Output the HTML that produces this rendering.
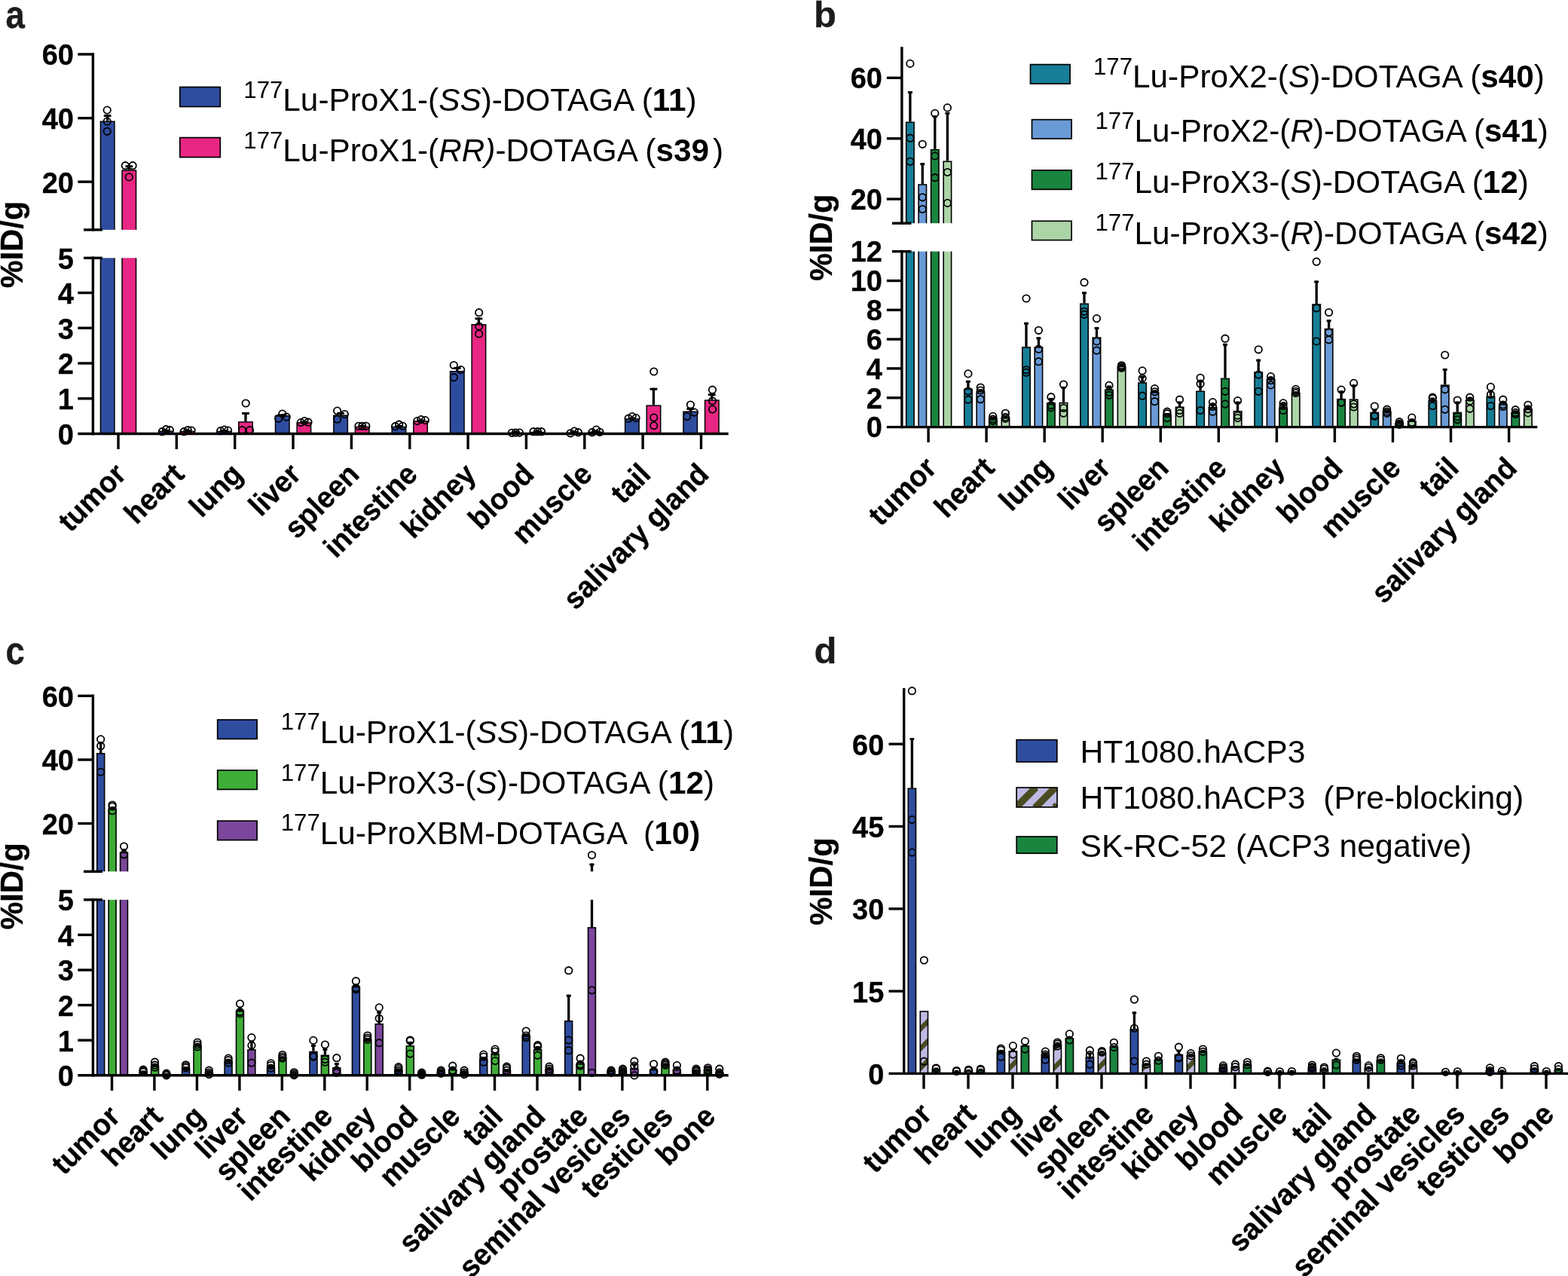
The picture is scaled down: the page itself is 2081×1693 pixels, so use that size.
<!DOCTYPE html>
<html lang="en">
<head>
<meta charset="utf-8">
<title>Biodistribution figure</title>
<style>
html,body{margin:0;padding:0;background:#fff;}
body{width:2081px;height:1693px;overflow:hidden;}
svg{display:block;font-family:"Liberation Sans",Arial,Helvetica,sans-serif;fill:#000;}
text[font-weight="bold"]{stroke:#000;stroke-width:0.3px;stroke-linejoin:round;}
</style>
</head>
<body>
<svg width="2081" height="1693" viewBox="0 0 2081 1693">
<rect width="2081" height="1693" fill="#fff"/>
<text transform="translate(7.6,36.9) scale(0.93,1.06)" font-size="49" font-weight="bold" text-anchor="start" style="fill:#1c1c1c;stroke:#1c1c1c">a</text>
<text transform="translate(30.0,324.6) rotate(-90) scale(1,1.02)" font-size="41.5" font-weight="bold" text-anchor="middle">%ID/g</text>
<rect x="133.45" y="161.25" width="18.50" height="414.25" fill="#2F4D9F" stroke="#000" stroke-width="1.5"/>
<line x1="142.7" y1="160.5" x2="142.7" y2="152.2" stroke="#000" stroke-width="3.3" stroke-linecap="butt"/>
<line x1="137.8" y1="153.6" x2="147.5" y2="153.6" stroke="#000" stroke-width="3.0" stroke-linecap="butt"/>
<rect x="131.7" y="304.9" width="22.0" height="37.4" fill="#fff"/>
<circle cx="142.2" cy="146.1" r="4.7" fill="none" stroke="#000" stroke-width="1.8"/>
<circle cx="142.2" cy="161.1" r="4.7" fill="none" stroke="#000" stroke-width="1.8"/>
<circle cx="142.2" cy="174.3" r="4.7" fill="none" stroke="#000" stroke-width="1.8"/>
<rect x="162.05" y="226.05" width="18.50" height="349.45" fill="#E82683" stroke="#000" stroke-width="1.5"/>
<line x1="171.3" y1="225.3" x2="171.3" y2="219.3" stroke="#000" stroke-width="3.3" stroke-linecap="butt"/>
<line x1="166.5" y1="220.7" x2="176.2" y2="220.7" stroke="#000" stroke-width="3.0" stroke-linecap="butt"/>
<rect x="160.3" y="304.9" width="22.0" height="37.4" fill="#fff"/>
<circle cx="166.3" cy="219.7" r="4.7" fill="none" stroke="#000" stroke-width="1.8"/>
<circle cx="176.1" cy="219.7" r="4.7" fill="none" stroke="#000" stroke-width="1.8"/>
<circle cx="171.3" cy="234.9" r="4.7" fill="none" stroke="#000" stroke-width="1.8"/>
<rect x="210.80" y="572.25" width="18.50" height="3.25" fill="#2F4D9F" stroke="#000" stroke-width="1.5"/>
<line x1="220.0" y1="571.5" x2="220.0" y2="569.9" stroke="#000" stroke-width="3.3" stroke-linecap="butt"/>
<line x1="215.2" y1="571.3" x2="224.9" y2="571.3" stroke="#000" stroke-width="3.0" stroke-linecap="butt"/>
<circle cx="215.3" cy="572.7" r="4.7" fill="none" stroke="#000" stroke-width="1.8"/>
<circle cx="220.4" cy="569.7" r="4.7" fill="none" stroke="#000" stroke-width="1.8"/>
<circle cx="225.4" cy="570.7" r="4.7" fill="none" stroke="#000" stroke-width="1.8"/>
<rect x="239.40" y="572.55" width="18.50" height="2.95" fill="#E82683" stroke="#000" stroke-width="1.5"/>
<line x1="248.7" y1="571.8" x2="248.7" y2="570.2" stroke="#000" stroke-width="3.3" stroke-linecap="butt"/>
<line x1="243.8" y1="571.6" x2="253.5" y2="571.6" stroke="#000" stroke-width="3.0" stroke-linecap="butt"/>
<circle cx="244.1" cy="572.7" r="4.7" fill="none" stroke="#000" stroke-width="1.8"/>
<circle cx="249.2" cy="570.7" r="4.7" fill="none" stroke="#000" stroke-width="1.8"/>
<circle cx="254.1" cy="571.1" r="4.7" fill="none" stroke="#000" stroke-width="1.8"/>
<rect x="288.15" y="572.45" width="18.50" height="3.05" fill="#2F4D9F" stroke="#000" stroke-width="1.5"/>
<line x1="297.4" y1="571.7" x2="297.4" y2="570.1" stroke="#000" stroke-width="3.3" stroke-linecap="butt"/>
<line x1="292.5" y1="571.5" x2="302.2" y2="571.5" stroke="#000" stroke-width="3.0" stroke-linecap="butt"/>
<circle cx="292.7" cy="571.7" r="4.7" fill="none" stroke="#000" stroke-width="1.8"/>
<circle cx="297.6" cy="570.1" r="4.7" fill="none" stroke="#000" stroke-width="1.8"/>
<circle cx="302.6" cy="571.1" r="4.7" fill="none" stroke="#000" stroke-width="1.8"/>
<rect x="316.75" y="559.95" width="18.50" height="15.55" fill="#E82683" stroke="#000" stroke-width="1.5"/>
<line x1="326.0" y1="559.2" x2="326.0" y2="547.1" stroke="#000" stroke-width="3.3" stroke-linecap="butt"/>
<line x1="321.1" y1="548.5" x2="330.9" y2="548.5" stroke="#000" stroke-width="3.0" stroke-linecap="butt"/>
<circle cx="326.2" cy="535.0" r="4.7" fill="none" stroke="#000" stroke-width="1.8"/>
<circle cx="321.4" cy="570.7" r="4.7" fill="none" stroke="#000" stroke-width="1.8"/>
<circle cx="331.5" cy="570.7" r="4.7" fill="none" stroke="#000" stroke-width="1.8"/>
<rect x="365.50" y="551.85" width="18.50" height="23.65" fill="#2F4D9F" stroke="#000" stroke-width="1.5"/>
<line x1="374.7" y1="551.1" x2="374.7" y2="549.5" stroke="#000" stroke-width="3.3" stroke-linecap="butt"/>
<line x1="369.9" y1="550.9" x2="379.6" y2="550.9" stroke="#000" stroke-width="3.0" stroke-linecap="butt"/>
<circle cx="374.8" cy="549.1" r="4.7" fill="none" stroke="#000" stroke-width="1.8"/>
<circle cx="369.7" cy="555.2" r="4.7" fill="none" stroke="#000" stroke-width="1.8"/>
<circle cx="380.2" cy="553.2" r="4.7" fill="none" stroke="#000" stroke-width="1.8"/>
<rect x="394.10" y="560.95" width="18.50" height="14.55" fill="#E82683" stroke="#000" stroke-width="1.5"/>
<line x1="403.3" y1="560.2" x2="403.3" y2="558.6" stroke="#000" stroke-width="3.3" stroke-linecap="butt"/>
<line x1="398.5" y1="560.0" x2="408.2" y2="560.0" stroke="#000" stroke-width="3.0" stroke-linecap="butt"/>
<circle cx="404.0" cy="558.6" r="4.7" fill="none" stroke="#000" stroke-width="1.8"/>
<circle cx="399.4" cy="560.6" r="4.7" fill="none" stroke="#000" stroke-width="1.8"/>
<circle cx="409.0" cy="560.2" r="4.7" fill="none" stroke="#000" stroke-width="1.8"/>
<rect x="442.85" y="551.25" width="18.50" height="24.25" fill="#2F4D9F" stroke="#000" stroke-width="1.5"/>
<line x1="452.1" y1="550.5" x2="452.1" y2="547.0" stroke="#000" stroke-width="3.3" stroke-linecap="butt"/>
<line x1="447.2" y1="548.4" x2="456.9" y2="548.4" stroke="#000" stroke-width="3.0" stroke-linecap="butt"/>
<circle cx="447.6" cy="545.1" r="4.7" fill="none" stroke="#000" stroke-width="1.8"/>
<circle cx="457.3" cy="549.5" r="4.7" fill="none" stroke="#000" stroke-width="1.8"/>
<circle cx="447.6" cy="556.2" r="4.7" fill="none" stroke="#000" stroke-width="1.8"/>
<rect x="471.45" y="566.45" width="18.50" height="9.05" fill="#E82683" stroke="#000" stroke-width="1.5"/>
<line x1="480.7" y1="565.7" x2="480.7" y2="564.1" stroke="#000" stroke-width="3.3" stroke-linecap="butt"/>
<line x1="475.8" y1="565.5" x2="485.6" y2="565.5" stroke="#000" stroke-width="3.0" stroke-linecap="butt"/>
<circle cx="476.0" cy="565.3" r="4.7" fill="none" stroke="#000" stroke-width="1.8"/>
<circle cx="480.8" cy="565.3" r="4.7" fill="none" stroke="#000" stroke-width="1.8"/>
<circle cx="485.8" cy="565.3" r="4.7" fill="none" stroke="#000" stroke-width="1.8"/>
<rect x="520.20" y="566.45" width="18.50" height="9.05" fill="#2F4D9F" stroke="#000" stroke-width="1.5"/>
<line x1="529.5" y1="565.7" x2="529.5" y2="564.1" stroke="#000" stroke-width="3.3" stroke-linecap="butt"/>
<line x1="524.6" y1="565.5" x2="534.3" y2="565.5" stroke="#000" stroke-width="3.0" stroke-linecap="butt"/>
<circle cx="524.6" cy="565.7" r="4.7" fill="none" stroke="#000" stroke-width="1.8"/>
<circle cx="529.6" cy="563.2" r="4.7" fill="none" stroke="#000" stroke-width="1.8"/>
<circle cx="534.5" cy="565.3" r="4.7" fill="none" stroke="#000" stroke-width="1.8"/>
<rect x="548.80" y="558.95" width="18.50" height="16.55" fill="#E82683" stroke="#000" stroke-width="1.5"/>
<line x1="558.0" y1="558.2" x2="558.0" y2="556.6" stroke="#000" stroke-width="3.3" stroke-linecap="butt"/>
<line x1="553.2" y1="558.0" x2="562.9" y2="558.0" stroke="#000" stroke-width="3.0" stroke-linecap="butt"/>
<circle cx="553.8" cy="558.6" r="4.7" fill="none" stroke="#000" stroke-width="1.8"/>
<circle cx="558.8" cy="556.6" r="4.7" fill="none" stroke="#000" stroke-width="1.8"/>
<circle cx="564.3" cy="557.6" r="4.7" fill="none" stroke="#000" stroke-width="1.8"/>
<rect x="597.55" y="492.75" width="18.50" height="82.75" fill="#2F4D9F" stroke="#000" stroke-width="1.5"/>
<line x1="606.8" y1="492.0" x2="606.8" y2="487.0" stroke="#000" stroke-width="3.3" stroke-linecap="butt"/>
<line x1="601.9" y1="488.4" x2="611.6" y2="488.4" stroke="#000" stroke-width="3.0" stroke-linecap="butt"/>
<circle cx="602.3" cy="484.5" r="4.7" fill="none" stroke="#000" stroke-width="1.8"/>
<circle cx="611.6" cy="490.6" r="4.7" fill="none" stroke="#000" stroke-width="1.8"/>
<circle cx="602.3" cy="500.7" r="4.7" fill="none" stroke="#000" stroke-width="1.8"/>
<rect x="626.15" y="430.75" width="18.50" height="144.75" fill="#E82683" stroke="#000" stroke-width="1.5"/>
<line x1="635.4" y1="430.0" x2="635.4" y2="421.4" stroke="#000" stroke-width="3.3" stroke-linecap="butt"/>
<line x1="630.5" y1="422.8" x2="640.2" y2="422.8" stroke="#000" stroke-width="3.0" stroke-linecap="butt"/>
<circle cx="635.7" cy="414.7" r="4.7" fill="none" stroke="#000" stroke-width="1.8"/>
<circle cx="635.7" cy="432.9" r="4.7" fill="none" stroke="#000" stroke-width="1.8"/>
<circle cx="635.7" cy="443.0" r="4.7" fill="none" stroke="#000" stroke-width="1.8"/>
<rect x="674.90" y="574.35" width="18.50" height="1.15" fill="#2F4D9F" stroke="#000" stroke-width="1.5"/>
<line x1="684.1" y1="573.6" x2="684.1" y2="572.0" stroke="#000" stroke-width="3.3" stroke-linecap="butt"/>
<line x1="679.3" y1="573.4" x2="689.0" y2="573.4" stroke="#000" stroke-width="3.0" stroke-linecap="butt"/>
<circle cx="679.4" cy="574.3" r="4.7" fill="none" stroke="#000" stroke-width="1.8"/>
<circle cx="684.4" cy="574.1" r="4.7" fill="none" stroke="#000" stroke-width="1.8"/>
<circle cx="689.4" cy="574.1" r="4.7" fill="none" stroke="#000" stroke-width="1.8"/>
<rect x="703.50" y="573.55" width="18.50" height="1.95" fill="#E82683" stroke="#000" stroke-width="1.5"/>
<line x1="712.7" y1="572.8" x2="712.7" y2="571.2" stroke="#000" stroke-width="3.3" stroke-linecap="butt"/>
<line x1="707.9" y1="572.6" x2="717.6" y2="572.6" stroke="#000" stroke-width="3.0" stroke-linecap="butt"/>
<circle cx="708.0" cy="572.7" r="4.7" fill="none" stroke="#000" stroke-width="1.8"/>
<circle cx="713.5" cy="572.7" r="4.7" fill="none" stroke="#000" stroke-width="1.8"/>
<circle cx="718.5" cy="572.7" r="4.7" fill="none" stroke="#000" stroke-width="1.8"/>
<rect x="752.25" y="574.35" width="18.50" height="1.15" fill="#2F4D9F" stroke="#000" stroke-width="1.5"/>
<line x1="761.5" y1="573.6" x2="761.5" y2="572.0" stroke="#000" stroke-width="3.3" stroke-linecap="butt"/>
<line x1="756.6" y1="573.4" x2="766.4" y2="573.4" stroke="#000" stroke-width="3.0" stroke-linecap="butt"/>
<circle cx="757.1" cy="574.8" r="4.7" fill="none" stroke="#000" stroke-width="1.8"/>
<circle cx="762.3" cy="572.1" r="4.7" fill="none" stroke="#000" stroke-width="1.8"/>
<circle cx="767.4" cy="573.7" r="4.7" fill="none" stroke="#000" stroke-width="1.8"/>
<rect x="780.85" y="573.35" width="18.50" height="2.15" fill="#E82683" stroke="#000" stroke-width="1.5"/>
<line x1="790.1" y1="572.6" x2="790.1" y2="571.0" stroke="#000" stroke-width="3.3" stroke-linecap="butt"/>
<line x1="785.2" y1="572.4" x2="794.9" y2="572.4" stroke="#000" stroke-width="3.0" stroke-linecap="butt"/>
<circle cx="785.9" cy="573.7" r="4.7" fill="none" stroke="#000" stroke-width="1.8"/>
<circle cx="791.4" cy="570.1" r="4.7" fill="none" stroke="#000" stroke-width="1.8"/>
<circle cx="796.0" cy="573.3" r="4.7" fill="none" stroke="#000" stroke-width="1.8"/>
<rect x="829.60" y="555.95" width="18.50" height="19.55" fill="#2F4D9F" stroke="#000" stroke-width="1.5"/>
<line x1="838.9" y1="555.2" x2="838.9" y2="553.6" stroke="#000" stroke-width="3.3" stroke-linecap="butt"/>
<line x1="834.0" y1="555.0" x2="843.7" y2="555.0" stroke="#000" stroke-width="3.0" stroke-linecap="butt"/>
<circle cx="834.1" cy="555.2" r="4.7" fill="none" stroke="#000" stroke-width="1.8"/>
<circle cx="839.1" cy="552.6" r="4.7" fill="none" stroke="#000" stroke-width="1.8"/>
<circle cx="844.1" cy="554.6" r="4.7" fill="none" stroke="#000" stroke-width="1.8"/>
<rect x="858.20" y="538.15" width="18.50" height="37.35" fill="#E82683" stroke="#000" stroke-width="1.5"/>
<line x1="867.4" y1="537.4" x2="867.4" y2="514.8" stroke="#000" stroke-width="3.3" stroke-linecap="butt"/>
<line x1="862.6" y1="516.2" x2="872.3" y2="516.2" stroke="#000" stroke-width="3.0" stroke-linecap="butt"/>
<circle cx="867.8" cy="493.0" r="4.7" fill="none" stroke="#000" stroke-width="1.8"/>
<circle cx="867.8" cy="554.0" r="4.7" fill="none" stroke="#000" stroke-width="1.8"/>
<circle cx="867.8" cy="564.7" r="4.7" fill="none" stroke="#000" stroke-width="1.8"/>
<rect x="906.95" y="546.25" width="18.50" height="29.25" fill="#2F4D9F" stroke="#000" stroke-width="1.5"/>
<line x1="916.2" y1="545.5" x2="916.2" y2="541.0" stroke="#000" stroke-width="3.3" stroke-linecap="butt"/>
<line x1="911.4" y1="542.4" x2="921.1" y2="542.4" stroke="#000" stroke-width="3.0" stroke-linecap="butt"/>
<circle cx="916.4" cy="537.0" r="4.7" fill="none" stroke="#000" stroke-width="1.8"/>
<circle cx="911.8" cy="552.6" r="4.7" fill="none" stroke="#000" stroke-width="1.8"/>
<circle cx="921.5" cy="547.1" r="4.7" fill="none" stroke="#000" stroke-width="1.8"/>
<rect x="935.55" y="531.15" width="18.50" height="44.35" fill="#E82683" stroke="#000" stroke-width="1.5"/>
<line x1="944.8" y1="530.4" x2="944.8" y2="522.3" stroke="#000" stroke-width="3.3" stroke-linecap="butt"/>
<line x1="939.9" y1="523.7" x2="949.6" y2="523.7" stroke="#000" stroke-width="3.0" stroke-linecap="butt"/>
<circle cx="945.5" cy="517.2" r="4.7" fill="none" stroke="#000" stroke-width="1.8"/>
<circle cx="945.5" cy="532.0" r="4.7" fill="none" stroke="#000" stroke-width="1.8"/>
<circle cx="945.5" cy="543.1" r="4.7" fill="none" stroke="#000" stroke-width="1.8"/>
<line x1="123.4" y1="70.3" x2="123.4" y2="306.6" stroke="#000" stroke-width="3.4" stroke-linecap="butt"/>
<line x1="123.4" y1="340.6" x2="123.4" y2="577.2" stroke="#000" stroke-width="3.4" stroke-linecap="butt"/>
<line x1="103.3" y1="72.0" x2="123.4" y2="72.0" stroke="#000" stroke-width="3.4" stroke-linecap="butt"/>
<line x1="103.3" y1="156.7" x2="123.4" y2="156.7" stroke="#000" stroke-width="3.4" stroke-linecap="butt"/>
<line x1="103.3" y1="241.2" x2="123.4" y2="241.2" stroke="#000" stroke-width="3.4" stroke-linecap="butt"/>
<line x1="111.0" y1="304.9" x2="136.0" y2="304.9" stroke="#000" stroke-width="3.4" stroke-linecap="butt"/>
<line x1="111.0" y1="342.3" x2="136.0" y2="342.3" stroke="#000" stroke-width="3.4" stroke-linecap="butt"/>
<line x1="103.3" y1="528.8" x2="123.4" y2="528.8" stroke="#000" stroke-width="3.4" stroke-linecap="butt"/>
<line x1="103.3" y1="482.0" x2="123.4" y2="482.0" stroke="#000" stroke-width="3.4" stroke-linecap="butt"/>
<line x1="103.3" y1="435.2" x2="123.4" y2="435.2" stroke="#000" stroke-width="3.4" stroke-linecap="butt"/>
<line x1="103.3" y1="388.5" x2="123.4" y2="388.5" stroke="#000" stroke-width="3.4" stroke-linecap="butt"/>
<line x1="103.3" y1="575.5" x2="966.7" y2="575.5" stroke="#000" stroke-width="3.4" stroke-linecap="butt"/>
<line x1="157.0" y1="575.5" x2="157.0" y2="596.0" stroke="#000" stroke-width="3.4" stroke-linecap="butt"/>
<line x1="234.3" y1="575.5" x2="234.3" y2="596.0" stroke="#000" stroke-width="3.4" stroke-linecap="butt"/>
<line x1="311.7" y1="575.5" x2="311.7" y2="596.0" stroke="#000" stroke-width="3.4" stroke-linecap="butt"/>
<line x1="389.0" y1="575.5" x2="389.0" y2="596.0" stroke="#000" stroke-width="3.4" stroke-linecap="butt"/>
<line x1="466.4" y1="575.5" x2="466.4" y2="596.0" stroke="#000" stroke-width="3.4" stroke-linecap="butt"/>
<line x1="543.8" y1="575.5" x2="543.8" y2="596.0" stroke="#000" stroke-width="3.4" stroke-linecap="butt"/>
<line x1="621.1" y1="575.5" x2="621.1" y2="596.0" stroke="#000" stroke-width="3.4" stroke-linecap="butt"/>
<line x1="698.4" y1="575.5" x2="698.4" y2="596.0" stroke="#000" stroke-width="3.4" stroke-linecap="butt"/>
<line x1="775.8" y1="575.5" x2="775.8" y2="596.0" stroke="#000" stroke-width="3.4" stroke-linecap="butt"/>
<line x1="853.1" y1="575.5" x2="853.1" y2="596.0" stroke="#000" stroke-width="3.4" stroke-linecap="butt"/>
<line x1="930.5" y1="575.5" x2="930.5" y2="596.0" stroke="#000" stroke-width="3.4" stroke-linecap="butt"/>
<text transform="translate(97.9,86.4) scale(1,1.04)" font-size="38" font-weight="bold" text-anchor="end" >60</text>
<text transform="translate(97.9,171.1) scale(1,1.04)" font-size="38" font-weight="bold" text-anchor="end" >40</text>
<text transform="translate(97.9,255.6) scale(1,1.04)" font-size="38" font-weight="bold" text-anchor="end" >20</text>
<text transform="translate(97.9,356.7) scale(1,1.04)" font-size="38" font-weight="bold" text-anchor="end" >5</text>
<text transform="translate(97.9,589.9) scale(1,1.04)" font-size="38" font-weight="bold" text-anchor="end" >0</text>
<text transform="translate(97.9,543.2) scale(1,1.04)" font-size="38" font-weight="bold" text-anchor="end" >1</text>
<text transform="translate(97.9,496.4) scale(1,1.04)" font-size="38" font-weight="bold" text-anchor="end" >2</text>
<text transform="translate(97.9,449.7) scale(1,1.04)" font-size="38" font-weight="bold" text-anchor="end" >3</text>
<text transform="translate(97.9,402.9) scale(1,1.04)" font-size="38" font-weight="bold" text-anchor="end" >4</text>
<text transform="translate(169.5,631.5) rotate(-45) scale(1,1.04)" font-size="38" font-weight="bold" text-anchor="end">tumor</text>
<text transform="translate(246.8,631.5) rotate(-45) scale(1,1.04)" font-size="38" font-weight="bold" text-anchor="end">heart</text>
<text transform="translate(324.2,631.5) rotate(-45) scale(1,1.04)" font-size="38" font-weight="bold" text-anchor="end">lung</text>
<text transform="translate(401.5,631.5) rotate(-45) scale(1,1.04)" font-size="38" font-weight="bold" text-anchor="end">liver</text>
<text transform="translate(478.9,631.5) rotate(-45) scale(1,1.04)" font-size="38" font-weight="bold" text-anchor="end">spleen</text>
<text transform="translate(556.2,631.5) rotate(-45) scale(1,1.04)" font-size="38" font-weight="bold" text-anchor="end">intestine</text>
<text transform="translate(633.6,631.5) rotate(-45) scale(1,1.04)" font-size="38" font-weight="bold" text-anchor="end">kidney</text>
<text transform="translate(710.9,631.5) rotate(-45) scale(1,1.04)" font-size="38" font-weight="bold" text-anchor="end">blood</text>
<text transform="translate(788.3,631.5) rotate(-45) scale(1,1.04)" font-size="38" font-weight="bold" text-anchor="end">muscle</text>
<text transform="translate(865.6,631.5) rotate(-45) scale(1,1.04)" font-size="38" font-weight="bold" text-anchor="end">tail</text>
<text transform="translate(943.0,631.5) rotate(-45) scale(1,1.04)" font-size="38" font-weight="bold" text-anchor="end">salivary gland</text>
<rect x="238.80" y="115.50" width="53.50" height="26.00" fill="#2F4D9F" stroke="#000" stroke-width="1.7"/>
<rect x="238.80" y="182.60" width="53.50" height="26.00" fill="#E82683" stroke="#000" stroke-width="1.7"/>
<text x="323.3" y="147.0" font-size="42.3" font-weight="normal" xml:space="preserve"><tspan font-size="31.2" dy="-17.5">177</tspan><tspan dy="17.5">Lu-ProX1-(</tspan><tspan font-style="italic">SS</tspan><tspan>)-DOTAGA (</tspan><tspan font-weight="bold">11</tspan><tspan>)</tspan></text>
<text x="323.3" y="214.2" font-size="42.3" font-weight="normal" xml:space="preserve"><tspan font-size="31.2" dy="-17.5">177</tspan><tspan dy="17.5">Lu-ProX1-(</tspan><tspan font-style="italic">RR)</tspan><tspan>-DOTAGA (</tspan><tspan font-weight="bold">s39</tspan><tspan dx="5">)</tspan></text>
<text transform="translate(1080.0,35.9) scale(1.0,1.0)" font-size="49" font-weight="bold" text-anchor="start" style="fill:#1c1c1c;stroke:#1c1c1c">b</text>
<text transform="translate(1104.0,315.2) rotate(-90) scale(1,1.02)" font-size="41.5" font-weight="bold" text-anchor="middle">%ID/g</text>
<rect x="1202.70" y="162.30" width="10.40" height="404.30" fill="#177E97" stroke="#000" stroke-width="1.6"/>
<line x1="1207.9" y1="161.5" x2="1207.9" y2="121.1" stroke="#000" stroke-width="3.3" stroke-linecap="butt"/>
<line x1="1204.9" y1="122.5" x2="1210.9" y2="122.5" stroke="#000" stroke-width="3.0" stroke-linecap="butt"/>
<rect x="1200.9" y="296.2" width="14.0" height="37.4" fill="#fff"/>
<circle cx="1207.9" cy="84.4" r="4.7" fill="none" stroke="#000" stroke-width="1.8"/>
<circle cx="1207.9" cy="183.2" r="4.7" fill="none" stroke="#000" stroke-width="1.8"/>
<circle cx="1207.9" cy="214.3" r="4.7" fill="none" stroke="#000" stroke-width="1.8"/>
<rect x="1219.10" y="245.00" width="10.40" height="321.60" fill="#6A9AD6" stroke="#000" stroke-width="1.6"/>
<line x1="1224.3" y1="244.2" x2="1224.3" y2="216.3" stroke="#000" stroke-width="3.3" stroke-linecap="butt"/>
<line x1="1221.3" y1="217.7" x2="1227.3" y2="217.7" stroke="#000" stroke-width="3.0" stroke-linecap="butt"/>
<rect x="1217.3" y="296.2" width="14.0" height="37.4" fill="#fff"/>
<circle cx="1224.3" cy="191.3" r="4.7" fill="none" stroke="#000" stroke-width="1.8"/>
<circle cx="1224.3" cy="261.8" r="4.7" fill="none" stroke="#000" stroke-width="1.8"/>
<circle cx="1224.3" cy="277.5" r="4.7" fill="none" stroke="#000" stroke-width="1.8"/>
<rect x="1235.60" y="198.60" width="10.40" height="368.00" fill="#19853F" stroke="#000" stroke-width="1.6"/>
<line x1="1240.8" y1="197.8" x2="1240.8" y2="153.4" stroke="#000" stroke-width="3.3" stroke-linecap="butt"/>
<line x1="1237.8" y1="154.8" x2="1243.8" y2="154.8" stroke="#000" stroke-width="3.0" stroke-linecap="butt"/>
<rect x="1233.8" y="296.2" width="14.0" height="37.4" fill="#fff"/>
<circle cx="1240.8" cy="150.4" r="4.7" fill="none" stroke="#000" stroke-width="1.8"/>
<circle cx="1240.8" cy="206.9" r="4.7" fill="none" stroke="#000" stroke-width="1.8"/>
<circle cx="1240.8" cy="235.7" r="4.7" fill="none" stroke="#000" stroke-width="1.8"/>
<rect x="1252.20" y="214.30" width="10.40" height="352.30" fill="#ACD5A7" stroke="#000" stroke-width="1.6"/>
<line x1="1257.4" y1="213.5" x2="1257.4" y2="148.9" stroke="#000" stroke-width="3.3" stroke-linecap="butt"/>
<line x1="1254.4" y1="150.3" x2="1260.4" y2="150.3" stroke="#000" stroke-width="3.0" stroke-linecap="butt"/>
<rect x="1250.4" y="296.2" width="14.0" height="37.4" fill="#fff"/>
<circle cx="1257.4" cy="142.9" r="4.7" fill="none" stroke="#000" stroke-width="1.8"/>
<circle cx="1257.4" cy="228.5" r="4.7" fill="none" stroke="#000" stroke-width="1.8"/>
<circle cx="1257.4" cy="269.4" r="4.7" fill="none" stroke="#000" stroke-width="1.8"/>
<rect x="1279.75" y="516.40" width="10.40" height="50.20" fill="#177E97" stroke="#000" stroke-width="1.6"/>
<line x1="1284.9" y1="515.6" x2="1284.9" y2="504.9" stroke="#000" stroke-width="3.3" stroke-linecap="butt"/>
<line x1="1281.9" y1="506.3" x2="1287.9" y2="506.3" stroke="#000" stroke-width="3.0" stroke-linecap="butt"/>
<circle cx="1284.9" cy="495.9" r="4.7" fill="none" stroke="#000" stroke-width="1.8"/>
<circle cx="1284.9" cy="519.0" r="4.7" fill="none" stroke="#000" stroke-width="1.8"/>
<circle cx="1284.9" cy="530.2" r="4.7" fill="none" stroke="#000" stroke-width="1.8"/>
<rect x="1296.15" y="519.80" width="10.40" height="46.80" fill="#6A9AD6" stroke="#000" stroke-width="1.6"/>
<line x1="1301.3" y1="519.0" x2="1301.3" y2="516.5" stroke="#000" stroke-width="3.3" stroke-linecap="butt"/>
<line x1="1298.3" y1="517.9" x2="1304.3" y2="517.9" stroke="#000" stroke-width="3.0" stroke-linecap="butt"/>
<circle cx="1301.3" cy="514.0" r="4.7" fill="none" stroke="#000" stroke-width="1.8"/>
<circle cx="1301.3" cy="518.0" r="4.7" fill="none" stroke="#000" stroke-width="1.8"/>
<circle cx="1301.3" cy="529.8" r="4.7" fill="none" stroke="#000" stroke-width="1.8"/>
<rect x="1312.65" y="555.20" width="10.40" height="11.40" fill="#19853F" stroke="#000" stroke-width="1.6"/>
<line x1="1317.8" y1="554.4" x2="1317.8" y2="552.8" stroke="#000" stroke-width="3.3" stroke-linecap="butt"/>
<line x1="1314.8" y1="554.2" x2="1320.8" y2="554.2" stroke="#000" stroke-width="3.0" stroke-linecap="butt"/>
<circle cx="1317.8" cy="552.4" r="4.7" fill="none" stroke="#000" stroke-width="1.8"/>
<circle cx="1317.8" cy="556.0" r="4.7" fill="none" stroke="#000" stroke-width="1.8"/>
<circle cx="1317.8" cy="558.4" r="4.7" fill="none" stroke="#000" stroke-width="1.8"/>
<rect x="1329.25" y="554.80" width="10.40" height="11.80" fill="#ACD5A7" stroke="#000" stroke-width="1.6"/>
<line x1="1334.4" y1="554.0" x2="1334.4" y2="552.4" stroke="#000" stroke-width="3.3" stroke-linecap="butt"/>
<line x1="1331.4" y1="553.8" x2="1337.4" y2="553.8" stroke="#000" stroke-width="3.0" stroke-linecap="butt"/>
<circle cx="1334.4" cy="548.3" r="4.7" fill="none" stroke="#000" stroke-width="1.8"/>
<circle cx="1334.4" cy="553.4" r="4.7" fill="none" stroke="#000" stroke-width="1.8"/>
<circle cx="1334.4" cy="555.4" r="4.7" fill="none" stroke="#000" stroke-width="1.8"/>
<rect x="1356.80" y="460.90" width="10.40" height="105.70" fill="#177E97" stroke="#000" stroke-width="1.6"/>
<line x1="1362.0" y1="460.1" x2="1362.0" y2="427.8" stroke="#000" stroke-width="3.3" stroke-linecap="butt"/>
<line x1="1359.0" y1="429.2" x2="1365.0" y2="429.2" stroke="#000" stroke-width="3.0" stroke-linecap="butt"/>
<circle cx="1362.0" cy="396.0" r="4.7" fill="none" stroke="#000" stroke-width="1.8"/>
<circle cx="1362.0" cy="490.8" r="4.7" fill="none" stroke="#000" stroke-width="1.8"/>
<circle cx="1362.0" cy="494.2" r="4.7" fill="none" stroke="#000" stroke-width="1.8"/>
<rect x="1373.20" y="460.90" width="10.40" height="105.70" fill="#6A9AD6" stroke="#000" stroke-width="1.6"/>
<line x1="1378.4" y1="460.1" x2="1378.4" y2="447.4" stroke="#000" stroke-width="3.3" stroke-linecap="butt"/>
<line x1="1375.4" y1="448.8" x2="1381.4" y2="448.8" stroke="#000" stroke-width="3.0" stroke-linecap="butt"/>
<circle cx="1378.4" cy="438.3" r="4.7" fill="none" stroke="#000" stroke-width="1.8"/>
<circle cx="1378.4" cy="463.2" r="4.7" fill="none" stroke="#000" stroke-width="1.8"/>
<circle cx="1378.4" cy="479.7" r="4.7" fill="none" stroke="#000" stroke-width="1.8"/>
<rect x="1389.70" y="535.00" width="10.40" height="31.60" fill="#19853F" stroke="#000" stroke-width="1.6"/>
<line x1="1394.9" y1="534.2" x2="1394.9" y2="528.0" stroke="#000" stroke-width="3.3" stroke-linecap="butt"/>
<line x1="1391.9" y1="529.4" x2="1397.9" y2="529.4" stroke="#000" stroke-width="3.0" stroke-linecap="butt"/>
<circle cx="1394.9" cy="526.7" r="4.7" fill="none" stroke="#000" stroke-width="1.8"/>
<circle cx="1394.9" cy="537.8" r="4.7" fill="none" stroke="#000" stroke-width="1.8"/>
<circle cx="1394.9" cy="540.9" r="4.7" fill="none" stroke="#000" stroke-width="1.8"/>
<rect x="1406.30" y="534.60" width="10.40" height="32.00" fill="#ACD5A7" stroke="#000" stroke-width="1.6"/>
<line x1="1411.5" y1="533.8" x2="1411.5" y2="513.0" stroke="#000" stroke-width="3.3" stroke-linecap="butt"/>
<line x1="1408.5" y1="514.4" x2="1414.5" y2="514.4" stroke="#000" stroke-width="3.0" stroke-linecap="butt"/>
<circle cx="1411.5" cy="510.0" r="4.7" fill="none" stroke="#000" stroke-width="1.8"/>
<circle cx="1411.5" cy="541.3" r="4.7" fill="none" stroke="#000" stroke-width="1.8"/>
<circle cx="1411.5" cy="548.3" r="4.7" fill="none" stroke="#000" stroke-width="1.8"/>
<rect x="1433.85" y="403.20" width="10.40" height="163.40" fill="#177E97" stroke="#000" stroke-width="1.6"/>
<line x1="1439.0" y1="402.4" x2="1439.0" y2="387.3" stroke="#000" stroke-width="3.3" stroke-linecap="butt"/>
<line x1="1436.0" y1="388.7" x2="1442.0" y2="388.7" stroke="#000" stroke-width="3.0" stroke-linecap="butt"/>
<circle cx="1439.0" cy="374.7" r="4.7" fill="none" stroke="#000" stroke-width="1.8"/>
<circle cx="1439.0" cy="413.3" r="4.7" fill="none" stroke="#000" stroke-width="1.8"/>
<circle cx="1439.0" cy="417.2" r="4.7" fill="none" stroke="#000" stroke-width="1.8"/>
<rect x="1450.25" y="448.10" width="10.40" height="118.50" fill="#6A9AD6" stroke="#000" stroke-width="1.6"/>
<line x1="1455.5" y1="447.3" x2="1455.5" y2="434.0" stroke="#000" stroke-width="3.3" stroke-linecap="butt"/>
<line x1="1452.5" y1="435.4" x2="1458.5" y2="435.4" stroke="#000" stroke-width="3.0" stroke-linecap="butt"/>
<circle cx="1455.5" cy="422.6" r="4.7" fill="none" stroke="#000" stroke-width="1.8"/>
<circle cx="1455.5" cy="452.9" r="4.7" fill="none" stroke="#000" stroke-width="1.8"/>
<circle cx="1455.5" cy="465.0" r="4.7" fill="none" stroke="#000" stroke-width="1.8"/>
<rect x="1466.75" y="517.20" width="10.40" height="49.40" fill="#19853F" stroke="#000" stroke-width="1.6"/>
<line x1="1472.0" y1="516.4" x2="1472.0" y2="511.7" stroke="#000" stroke-width="3.3" stroke-linecap="butt"/>
<line x1="1469.0" y1="513.1" x2="1475.0" y2="513.1" stroke="#000" stroke-width="3.0" stroke-linecap="butt"/>
<circle cx="1472.0" cy="511.4" r="4.7" fill="none" stroke="#000" stroke-width="1.8"/>
<circle cx="1472.0" cy="520.5" r="4.7" fill="none" stroke="#000" stroke-width="1.8"/>
<circle cx="1472.0" cy="524.3" r="4.7" fill="none" stroke="#000" stroke-width="1.8"/>
<rect x="1483.35" y="486.50" width="10.40" height="80.10" fill="#ACD5A7" stroke="#000" stroke-width="1.6"/>
<line x1="1488.5" y1="485.7" x2="1488.5" y2="484.1" stroke="#000" stroke-width="3.3" stroke-linecap="butt"/>
<line x1="1485.5" y1="485.5" x2="1491.5" y2="485.5" stroke="#000" stroke-width="3.0" stroke-linecap="butt"/>
<circle cx="1488.5" cy="484.8" r="4.7" fill="none" stroke="#000" stroke-width="1.8"/>
<circle cx="1488.5" cy="486.5" r="4.7" fill="none" stroke="#000" stroke-width="1.8"/>
<circle cx="1488.5" cy="488.2" r="4.7" fill="none" stroke="#000" stroke-width="1.8"/>
<rect x="1510.90" y="508.00" width="10.40" height="58.60" fill="#177E97" stroke="#000" stroke-width="1.6"/>
<line x1="1516.1" y1="507.2" x2="1516.1" y2="498.8" stroke="#000" stroke-width="3.3" stroke-linecap="butt"/>
<line x1="1513.1" y1="500.2" x2="1519.1" y2="500.2" stroke="#000" stroke-width="3.0" stroke-linecap="butt"/>
<circle cx="1516.1" cy="491.9" r="4.7" fill="none" stroke="#000" stroke-width="1.8"/>
<circle cx="1516.1" cy="502.0" r="4.7" fill="none" stroke="#000" stroke-width="1.8"/>
<circle cx="1516.1" cy="525.2" r="4.7" fill="none" stroke="#000" stroke-width="1.8"/>
<rect x="1527.30" y="520.90" width="10.40" height="45.70" fill="#6A9AD6" stroke="#000" stroke-width="1.6"/>
<line x1="1532.5" y1="520.1" x2="1532.5" y2="517.6" stroke="#000" stroke-width="3.3" stroke-linecap="butt"/>
<line x1="1529.5" y1="519.0" x2="1535.5" y2="519.0" stroke="#000" stroke-width="3.0" stroke-linecap="butt"/>
<circle cx="1532.5" cy="515.6" r="4.7" fill="none" stroke="#000" stroke-width="1.8"/>
<circle cx="1532.5" cy="519.8" r="4.7" fill="none" stroke="#000" stroke-width="1.8"/>
<circle cx="1532.5" cy="532.7" r="4.7" fill="none" stroke="#000" stroke-width="1.8"/>
<rect x="1543.80" y="550.40" width="10.40" height="16.20" fill="#19853F" stroke="#000" stroke-width="1.6"/>
<line x1="1549.0" y1="549.6" x2="1549.0" y2="548.0" stroke="#000" stroke-width="3.3" stroke-linecap="butt"/>
<line x1="1546.0" y1="549.4" x2="1552.0" y2="549.4" stroke="#000" stroke-width="3.0" stroke-linecap="butt"/>
<circle cx="1549.0" cy="546.2" r="4.7" fill="none" stroke="#000" stroke-width="1.8"/>
<circle cx="1549.0" cy="548.7" r="4.7" fill="none" stroke="#000" stroke-width="1.8"/>
<circle cx="1549.0" cy="554.6" r="4.7" fill="none" stroke="#000" stroke-width="1.8"/>
<rect x="1560.40" y="540.30" width="10.40" height="26.30" fill="#ACD5A7" stroke="#000" stroke-width="1.6"/>
<line x1="1565.6" y1="539.5" x2="1565.6" y2="532.7" stroke="#000" stroke-width="3.3" stroke-linecap="butt"/>
<line x1="1562.6" y1="534.1" x2="1568.6" y2="534.1" stroke="#000" stroke-width="3.0" stroke-linecap="butt"/>
<circle cx="1565.6" cy="530.2" r="4.7" fill="none" stroke="#000" stroke-width="1.8"/>
<circle cx="1565.6" cy="544.5" r="4.7" fill="none" stroke="#000" stroke-width="1.8"/>
<circle cx="1565.6" cy="548.4" r="4.7" fill="none" stroke="#000" stroke-width="1.8"/>
<rect x="1587.95" y="519.30" width="10.40" height="47.30" fill="#177E97" stroke="#000" stroke-width="1.6"/>
<line x1="1593.1" y1="518.5" x2="1593.1" y2="504.7" stroke="#000" stroke-width="3.3" stroke-linecap="butt"/>
<line x1="1590.1" y1="506.1" x2="1596.1" y2="506.1" stroke="#000" stroke-width="3.0" stroke-linecap="butt"/>
<circle cx="1593.1" cy="501.3" r="4.7" fill="none" stroke="#000" stroke-width="1.8"/>
<circle cx="1593.1" cy="509.2" r="4.7" fill="none" stroke="#000" stroke-width="1.8"/>
<circle cx="1593.1" cy="544.5" r="4.7" fill="none" stroke="#000" stroke-width="1.8"/>
<rect x="1604.35" y="540.80" width="10.40" height="25.80" fill="#6A9AD6" stroke="#000" stroke-width="1.6"/>
<line x1="1609.5" y1="540.0" x2="1609.5" y2="536.0" stroke="#000" stroke-width="3.3" stroke-linecap="butt"/>
<line x1="1606.5" y1="537.4" x2="1612.5" y2="537.4" stroke="#000" stroke-width="3.0" stroke-linecap="butt"/>
<circle cx="1609.5" cy="533.6" r="4.7" fill="none" stroke="#000" stroke-width="1.8"/>
<circle cx="1609.5" cy="539.5" r="4.7" fill="none" stroke="#000" stroke-width="1.8"/>
<circle cx="1609.5" cy="546.2" r="4.7" fill="none" stroke="#000" stroke-width="1.8"/>
<rect x="1620.85" y="502.40" width="10.40" height="64.20" fill="#19853F" stroke="#000" stroke-width="1.6"/>
<line x1="1626.0" y1="501.6" x2="1626.0" y2="455.9" stroke="#000" stroke-width="3.3" stroke-linecap="butt"/>
<line x1="1623.0" y1="457.3" x2="1629.0" y2="457.3" stroke="#000" stroke-width="3.0" stroke-linecap="butt"/>
<circle cx="1626.0" cy="449.2" r="4.7" fill="none" stroke="#000" stroke-width="1.8"/>
<circle cx="1626.0" cy="519.3" r="4.7" fill="none" stroke="#000" stroke-width="1.8"/>
<circle cx="1626.0" cy="536.1" r="4.7" fill="none" stroke="#000" stroke-width="1.8"/>
<rect x="1637.45" y="545.70" width="10.40" height="20.90" fill="#ACD5A7" stroke="#000" stroke-width="1.6"/>
<line x1="1642.6" y1="544.9" x2="1642.6" y2="532.7" stroke="#000" stroke-width="3.3" stroke-linecap="butt"/>
<line x1="1639.6" y1="534.1" x2="1645.6" y2="534.1" stroke="#000" stroke-width="3.0" stroke-linecap="butt"/>
<circle cx="1642.6" cy="531.6" r="4.7" fill="none" stroke="#000" stroke-width="1.8"/>
<circle cx="1642.6" cy="551.2" r="4.7" fill="none" stroke="#000" stroke-width="1.8"/>
<circle cx="1642.6" cy="554.6" r="4.7" fill="none" stroke="#000" stroke-width="1.8"/>
<rect x="1665.00" y="494.00" width="10.40" height="72.60" fill="#177E97" stroke="#000" stroke-width="1.6"/>
<line x1="1670.2" y1="493.2" x2="1670.2" y2="476.7" stroke="#000" stroke-width="3.3" stroke-linecap="butt"/>
<line x1="1667.2" y1="478.1" x2="1673.2" y2="478.1" stroke="#000" stroke-width="3.0" stroke-linecap="butt"/>
<circle cx="1670.2" cy="463.8" r="4.7" fill="none" stroke="#000" stroke-width="1.8"/>
<circle cx="1670.2" cy="497.1" r="4.7" fill="none" stroke="#000" stroke-width="1.8"/>
<circle cx="1670.2" cy="519.3" r="4.7" fill="none" stroke="#000" stroke-width="1.8"/>
<rect x="1681.40" y="503.30" width="10.40" height="63.30" fill="#6A9AD6" stroke="#000" stroke-width="1.6"/>
<line x1="1686.6" y1="502.5" x2="1686.6" y2="500.0" stroke="#000" stroke-width="3.3" stroke-linecap="butt"/>
<line x1="1683.6" y1="501.4" x2="1689.6" y2="501.4" stroke="#000" stroke-width="3.0" stroke-linecap="butt"/>
<circle cx="1686.6" cy="499.6" r="4.7" fill="none" stroke="#000" stroke-width="1.8"/>
<circle cx="1686.6" cy="504.7" r="4.7" fill="none" stroke="#000" stroke-width="1.8"/>
<circle cx="1686.6" cy="510.9" r="4.7" fill="none" stroke="#000" stroke-width="1.8"/>
<rect x="1697.90" y="541.10" width="10.40" height="25.50" fill="#19853F" stroke="#000" stroke-width="1.6"/>
<line x1="1703.1" y1="540.3" x2="1703.1" y2="535.0" stroke="#000" stroke-width="3.3" stroke-linecap="butt"/>
<line x1="1700.1" y1="536.4" x2="1706.1" y2="536.4" stroke="#000" stroke-width="3.0" stroke-linecap="butt"/>
<circle cx="1703.1" cy="534.9" r="4.7" fill="none" stroke="#000" stroke-width="1.8"/>
<circle cx="1703.1" cy="538.6" r="4.7" fill="none" stroke="#000" stroke-width="1.8"/>
<circle cx="1703.1" cy="544.5" r="4.7" fill="none" stroke="#000" stroke-width="1.8"/>
<rect x="1714.50" y="521.80" width="10.40" height="44.80" fill="#ACD5A7" stroke="#000" stroke-width="1.6"/>
<line x1="1719.7" y1="521.0" x2="1719.7" y2="519.4" stroke="#000" stroke-width="3.3" stroke-linecap="butt"/>
<line x1="1716.7" y1="520.8" x2="1722.7" y2="520.8" stroke="#000" stroke-width="3.0" stroke-linecap="butt"/>
<circle cx="1719.7" cy="516.4" r="4.7" fill="none" stroke="#000" stroke-width="1.8"/>
<circle cx="1719.7" cy="519.3" r="4.7" fill="none" stroke="#000" stroke-width="1.8"/>
<circle cx="1719.7" cy="521.5" r="4.7" fill="none" stroke="#000" stroke-width="1.8"/>
<rect x="1742.05" y="404.00" width="10.40" height="162.60" fill="#177E97" stroke="#000" stroke-width="1.6"/>
<line x1="1747.2" y1="403.2" x2="1747.2" y2="372.5" stroke="#000" stroke-width="3.3" stroke-linecap="butt"/>
<line x1="1744.2" y1="373.9" x2="1750.2" y2="373.9" stroke="#000" stroke-width="3.0" stroke-linecap="butt"/>
<circle cx="1747.2" cy="347.2" r="4.7" fill="none" stroke="#000" stroke-width="1.8"/>
<circle cx="1747.2" cy="408.8" r="4.7" fill="none" stroke="#000" stroke-width="1.8"/>
<circle cx="1747.2" cy="452.9" r="4.7" fill="none" stroke="#000" stroke-width="1.8"/>
<rect x="1758.45" y="436.50" width="10.40" height="130.10" fill="#6A9AD6" stroke="#000" stroke-width="1.6"/>
<line x1="1763.6" y1="435.7" x2="1763.6" y2="424.3" stroke="#000" stroke-width="3.3" stroke-linecap="butt"/>
<line x1="1760.6" y1="425.7" x2="1766.6" y2="425.7" stroke="#000" stroke-width="3.0" stroke-linecap="butt"/>
<circle cx="1763.6" cy="414.5" r="4.7" fill="none" stroke="#000" stroke-width="1.8"/>
<circle cx="1763.6" cy="441.1" r="4.7" fill="none" stroke="#000" stroke-width="1.8"/>
<circle cx="1763.6" cy="450.8" r="4.7" fill="none" stroke="#000" stroke-width="1.8"/>
<rect x="1774.95" y="529.70" width="10.40" height="36.90" fill="#19853F" stroke="#000" stroke-width="1.6"/>
<line x1="1780.1" y1="528.9" x2="1780.1" y2="518.5" stroke="#000" stroke-width="3.3" stroke-linecap="butt"/>
<line x1="1777.1" y1="519.9" x2="1783.1" y2="519.9" stroke="#000" stroke-width="3.0" stroke-linecap="butt"/>
<circle cx="1780.1" cy="517.1" r="4.7" fill="none" stroke="#000" stroke-width="1.8"/>
<circle cx="1780.1" cy="533.9" r="4.7" fill="none" stroke="#000" stroke-width="1.8"/>
<circle cx="1780.1" cy="534.4" r="4.7" fill="none" stroke="#000" stroke-width="1.8"/>
<rect x="1791.55" y="530.20" width="10.40" height="36.40" fill="#ACD5A7" stroke="#000" stroke-width="1.6"/>
<line x1="1796.7" y1="529.4" x2="1796.7" y2="510.4" stroke="#000" stroke-width="3.3" stroke-linecap="butt"/>
<line x1="1793.7" y1="511.8" x2="1799.7" y2="511.8" stroke="#000" stroke-width="3.0" stroke-linecap="butt"/>
<circle cx="1796.7" cy="508.4" r="4.7" fill="none" stroke="#000" stroke-width="1.8"/>
<circle cx="1796.7" cy="536.1" r="4.7" fill="none" stroke="#000" stroke-width="1.8"/>
<circle cx="1796.7" cy="540.0" r="4.7" fill="none" stroke="#000" stroke-width="1.8"/>
<rect x="1819.10" y="547.50" width="10.40" height="19.10" fill="#177E97" stroke="#000" stroke-width="1.6"/>
<line x1="1824.3" y1="546.7" x2="1824.3" y2="542.8" stroke="#000" stroke-width="3.3" stroke-linecap="butt"/>
<line x1="1821.3" y1="544.2" x2="1827.3" y2="544.2" stroke="#000" stroke-width="3.0" stroke-linecap="butt"/>
<circle cx="1824.3" cy="539.0" r="4.7" fill="none" stroke="#000" stroke-width="1.8"/>
<circle cx="1824.3" cy="551.3" r="4.7" fill="none" stroke="#000" stroke-width="1.8"/>
<circle cx="1824.3" cy="552.4" r="4.7" fill="none" stroke="#000" stroke-width="1.8"/>
<rect x="1835.50" y="546.20" width="10.40" height="20.40" fill="#6A9AD6" stroke="#000" stroke-width="1.6"/>
<line x1="1840.7" y1="545.4" x2="1840.7" y2="543.8" stroke="#000" stroke-width="3.3" stroke-linecap="butt"/>
<line x1="1837.7" y1="545.2" x2="1843.7" y2="545.2" stroke="#000" stroke-width="3.0" stroke-linecap="butt"/>
<circle cx="1840.7" cy="543.2" r="4.7" fill="none" stroke="#000" stroke-width="1.8"/>
<circle cx="1840.7" cy="546.2" r="4.7" fill="none" stroke="#000" stroke-width="1.8"/>
<circle cx="1840.7" cy="548.4" r="4.7" fill="none" stroke="#000" stroke-width="1.8"/>
<rect x="1852.00" y="561.60" width="10.40" height="5.00" fill="#19853F" stroke="#000" stroke-width="1.6"/>
<line x1="1857.2" y1="560.8" x2="1857.2" y2="559.2" stroke="#000" stroke-width="3.3" stroke-linecap="butt"/>
<line x1="1854.2" y1="560.6" x2="1860.2" y2="560.6" stroke="#000" stroke-width="3.0" stroke-linecap="butt"/>
<circle cx="1857.2" cy="559.7" r="4.7" fill="none" stroke="#000" stroke-width="1.8"/>
<circle cx="1857.2" cy="562.2" r="4.7" fill="none" stroke="#000" stroke-width="1.8"/>
<circle cx="1857.2" cy="563.4" r="4.7" fill="none" stroke="#000" stroke-width="1.8"/>
<rect x="1868.60" y="558.80" width="10.40" height="7.80" fill="#ACD5A7" stroke="#000" stroke-width="1.6"/>
<line x1="1873.8" y1="558.0" x2="1873.8" y2="556.4" stroke="#000" stroke-width="3.3" stroke-linecap="butt"/>
<line x1="1870.8" y1="557.8" x2="1876.8" y2="557.8" stroke="#000" stroke-width="3.0" stroke-linecap="butt"/>
<circle cx="1873.8" cy="554.1" r="4.7" fill="none" stroke="#000" stroke-width="1.8"/>
<circle cx="1873.8" cy="560.5" r="4.7" fill="none" stroke="#000" stroke-width="1.8"/>
<circle cx="1873.8" cy="563.0" r="4.7" fill="none" stroke="#000" stroke-width="1.8"/>
<rect x="1896.15" y="531.90" width="10.40" height="34.70" fill="#177E97" stroke="#000" stroke-width="1.6"/>
<line x1="1901.3" y1="531.1" x2="1901.3" y2="527.7" stroke="#000" stroke-width="3.3" stroke-linecap="butt"/>
<line x1="1898.3" y1="529.1" x2="1904.3" y2="529.1" stroke="#000" stroke-width="3.0" stroke-linecap="butt"/>
<circle cx="1901.3" cy="527.2" r="4.7" fill="none" stroke="#000" stroke-width="1.8"/>
<circle cx="1901.3" cy="528.5" r="4.7" fill="none" stroke="#000" stroke-width="1.8"/>
<circle cx="1901.3" cy="538.6" r="4.7" fill="none" stroke="#000" stroke-width="1.8"/>
<rect x="1912.55" y="511.20" width="10.40" height="55.40" fill="#6A9AD6" stroke="#000" stroke-width="1.6"/>
<line x1="1917.7" y1="510.4" x2="1917.7" y2="489.0" stroke="#000" stroke-width="3.3" stroke-linecap="butt"/>
<line x1="1914.7" y1="490.4" x2="1920.7" y2="490.4" stroke="#000" stroke-width="3.0" stroke-linecap="butt"/>
<circle cx="1917.7" cy="471.0" r="4.7" fill="none" stroke="#000" stroke-width="1.8"/>
<circle cx="1917.7" cy="516.8" r="4.7" fill="none" stroke="#000" stroke-width="1.8"/>
<circle cx="1917.7" cy="543.3" r="4.7" fill="none" stroke="#000" stroke-width="1.8"/>
<rect x="1929.05" y="547.50" width="10.40" height="19.10" fill="#19853F" stroke="#000" stroke-width="1.6"/>
<line x1="1934.2" y1="546.7" x2="1934.2" y2="532.7" stroke="#000" stroke-width="3.3" stroke-linecap="butt"/>
<line x1="1931.2" y1="534.1" x2="1937.2" y2="534.1" stroke="#000" stroke-width="3.0" stroke-linecap="butt"/>
<circle cx="1934.2" cy="531.0" r="4.7" fill="none" stroke="#000" stroke-width="1.8"/>
<circle cx="1934.2" cy="552.9" r="4.7" fill="none" stroke="#000" stroke-width="1.8"/>
<circle cx="1934.2" cy="556.8" r="4.7" fill="none" stroke="#000" stroke-width="1.8"/>
<rect x="1945.65" y="531.00" width="10.40" height="35.60" fill="#ACD5A7" stroke="#000" stroke-width="1.6"/>
<line x1="1950.8" y1="530.2" x2="1950.8" y2="526.9" stroke="#000" stroke-width="3.3" stroke-linecap="butt"/>
<line x1="1947.8" y1="528.3" x2="1953.8" y2="528.3" stroke="#000" stroke-width="3.0" stroke-linecap="butt"/>
<circle cx="1950.8" cy="527.2" r="4.7" fill="none" stroke="#000" stroke-width="1.8"/>
<circle cx="1950.8" cy="532.2" r="4.7" fill="none" stroke="#000" stroke-width="1.8"/>
<circle cx="1950.8" cy="542.3" r="4.7" fill="none" stroke="#000" stroke-width="1.8"/>
<rect x="1973.20" y="526.30" width="10.40" height="40.30" fill="#177E97" stroke="#000" stroke-width="1.6"/>
<line x1="1978.4" y1="525.5" x2="1978.4" y2="518.0" stroke="#000" stroke-width="3.3" stroke-linecap="butt"/>
<line x1="1975.4" y1="519.4" x2="1981.4" y2="519.4" stroke="#000" stroke-width="3.0" stroke-linecap="butt"/>
<circle cx="1978.4" cy="513.4" r="4.7" fill="none" stroke="#000" stroke-width="1.8"/>
<circle cx="1978.4" cy="523.5" r="4.7" fill="none" stroke="#000" stroke-width="1.8"/>
<circle cx="1978.4" cy="538.6" r="4.7" fill="none" stroke="#000" stroke-width="1.8"/>
<rect x="1989.60" y="536.90" width="10.40" height="29.70" fill="#6A9AD6" stroke="#000" stroke-width="1.6"/>
<line x1="1994.8" y1="536.1" x2="1994.8" y2="532.7" stroke="#000" stroke-width="3.3" stroke-linecap="butt"/>
<line x1="1991.8" y1="534.1" x2="1997.8" y2="534.1" stroke="#000" stroke-width="3.0" stroke-linecap="butt"/>
<circle cx="1994.8" cy="530.2" r="4.7" fill="none" stroke="#000" stroke-width="1.8"/>
<circle cx="1994.8" cy="537.0" r="4.7" fill="none" stroke="#000" stroke-width="1.8"/>
<circle cx="1994.8" cy="539.5" r="4.7" fill="none" stroke="#000" stroke-width="1.8"/>
<rect x="2006.10" y="547.80" width="10.40" height="18.80" fill="#19853F" stroke="#000" stroke-width="1.6"/>
<line x1="2011.3" y1="547.0" x2="2011.3" y2="545.4" stroke="#000" stroke-width="3.3" stroke-linecap="butt"/>
<line x1="2008.3" y1="546.8" x2="2014.3" y2="546.8" stroke="#000" stroke-width="3.0" stroke-linecap="butt"/>
<circle cx="2011.3" cy="543.7" r="4.7" fill="none" stroke="#000" stroke-width="1.8"/>
<circle cx="2011.3" cy="547.4" r="4.7" fill="none" stroke="#000" stroke-width="1.8"/>
<circle cx="2011.3" cy="549.6" r="4.7" fill="none" stroke="#000" stroke-width="1.8"/>
<rect x="2022.70" y="542.80" width="10.40" height="23.80" fill="#ACD5A7" stroke="#000" stroke-width="1.6"/>
<line x1="2027.9" y1="542.0" x2="2027.9" y2="538.6" stroke="#000" stroke-width="3.3" stroke-linecap="butt"/>
<line x1="2024.9" y1="540.0" x2="2030.9" y2="540.0" stroke="#000" stroke-width="3.0" stroke-linecap="butt"/>
<circle cx="2027.9" cy="537.3" r="4.7" fill="none" stroke="#000" stroke-width="1.8"/>
<circle cx="2027.9" cy="542.8" r="4.7" fill="none" stroke="#000" stroke-width="1.8"/>
<circle cx="2027.9" cy="547.9" r="4.7" fill="none" stroke="#000" stroke-width="1.8"/>
<line x1="1196.9" y1="62.2" x2="1196.9" y2="297.9" stroke="#000" stroke-width="3.4" stroke-linecap="butt"/>
<line x1="1196.9" y1="331.9" x2="1196.9" y2="568.3" stroke="#000" stroke-width="3.4" stroke-linecap="butt"/>
<line x1="1176.8" y1="103.3" x2="1196.9" y2="103.3" stroke="#000" stroke-width="3.4" stroke-linecap="butt"/>
<line x1="1176.8" y1="183.8" x2="1196.9" y2="183.8" stroke="#000" stroke-width="3.4" stroke-linecap="butt"/>
<line x1="1176.8" y1="264.1" x2="1196.9" y2="264.1" stroke="#000" stroke-width="3.4" stroke-linecap="butt"/>
<line x1="1184.0" y1="296.2" x2="1209.5" y2="296.2" stroke="#000" stroke-width="3.4" stroke-linecap="butt"/>
<line x1="1184.0" y1="333.6" x2="1209.5" y2="333.6" stroke="#000" stroke-width="3.4" stroke-linecap="butt"/>
<line x1="1176.8" y1="527.8" x2="1196.9" y2="527.8" stroke="#000" stroke-width="3.4" stroke-linecap="butt"/>
<line x1="1176.8" y1="488.9" x2="1196.9" y2="488.9" stroke="#000" stroke-width="3.4" stroke-linecap="butt"/>
<line x1="1176.8" y1="450.1" x2="1196.9" y2="450.1" stroke="#000" stroke-width="3.4" stroke-linecap="butt"/>
<line x1="1176.8" y1="411.3" x2="1196.9" y2="411.3" stroke="#000" stroke-width="3.4" stroke-linecap="butt"/>
<line x1="1176.8" y1="372.5" x2="1196.9" y2="372.5" stroke="#000" stroke-width="3.4" stroke-linecap="butt"/>
<line x1="1176.8" y1="566.6" x2="2040.3" y2="566.6" stroke="#000" stroke-width="3.4" stroke-linecap="butt"/>
<line x1="1232.1" y1="566.6" x2="1232.1" y2="586.9" stroke="#000" stroke-width="3.4" stroke-linecap="butt"/>
<line x1="1309.1" y1="566.6" x2="1309.1" y2="586.9" stroke="#000" stroke-width="3.4" stroke-linecap="butt"/>
<line x1="1386.2" y1="566.6" x2="1386.2" y2="586.9" stroke="#000" stroke-width="3.4" stroke-linecap="butt"/>
<line x1="1463.2" y1="566.6" x2="1463.2" y2="586.9" stroke="#000" stroke-width="3.4" stroke-linecap="butt"/>
<line x1="1540.3" y1="566.6" x2="1540.3" y2="586.9" stroke="#000" stroke-width="3.4" stroke-linecap="butt"/>
<line x1="1617.3" y1="566.6" x2="1617.3" y2="586.9" stroke="#000" stroke-width="3.4" stroke-linecap="butt"/>
<line x1="1694.4" y1="566.6" x2="1694.4" y2="586.9" stroke="#000" stroke-width="3.4" stroke-linecap="butt"/>
<line x1="1771.4" y1="566.6" x2="1771.4" y2="586.9" stroke="#000" stroke-width="3.4" stroke-linecap="butt"/>
<line x1="1848.5" y1="566.6" x2="1848.5" y2="586.9" stroke="#000" stroke-width="3.4" stroke-linecap="butt"/>
<line x1="1925.5" y1="566.6" x2="1925.5" y2="586.9" stroke="#000" stroke-width="3.4" stroke-linecap="butt"/>
<line x1="2002.6" y1="566.6" x2="2002.6" y2="586.9" stroke="#000" stroke-width="3.4" stroke-linecap="butt"/>
<text transform="translate(1171.0,117.0) scale(1,1.04)" font-size="38" font-weight="bold" text-anchor="end" >60</text>
<text transform="translate(1171.0,197.5) scale(1,1.04)" font-size="38" font-weight="bold" text-anchor="end" >40</text>
<text transform="translate(1171.0,277.8) scale(1,1.04)" font-size="38" font-weight="bold" text-anchor="end" >20</text>
<text transform="translate(1171.0,347.3) scale(1,1.04)" font-size="38" font-weight="bold" text-anchor="end" >12</text>
<text transform="translate(1171.0,580.3) scale(1,1.04)" font-size="38" font-weight="bold" text-anchor="end" >0</text>
<text transform="translate(1171.0,541.5) scale(1,1.04)" font-size="38" font-weight="bold" text-anchor="end" >2</text>
<text transform="translate(1171.0,502.7) scale(1,1.04)" font-size="38" font-weight="bold" text-anchor="end" >4</text>
<text transform="translate(1171.0,463.9) scale(1,1.04)" font-size="38" font-weight="bold" text-anchor="end" >6</text>
<text transform="translate(1171.0,425.0) scale(1,1.04)" font-size="38" font-weight="bold" text-anchor="end" >8</text>
<text transform="translate(1171.0,386.2) scale(1,1.04)" font-size="38" font-weight="bold" text-anchor="end" >10</text>
<text transform="translate(1244.9,623.4) rotate(-45) scale(1,1.04)" font-size="38" font-weight="bold" text-anchor="end">tumor</text>
<text transform="translate(1321.9,623.4) rotate(-45) scale(1,1.04)" font-size="38" font-weight="bold" text-anchor="end">heart</text>
<text transform="translate(1399.0,623.4) rotate(-45) scale(1,1.04)" font-size="38" font-weight="bold" text-anchor="end">lung</text>
<text transform="translate(1476.0,623.4) rotate(-45) scale(1,1.04)" font-size="38" font-weight="bold" text-anchor="end">liver</text>
<text transform="translate(1553.1,623.4) rotate(-45) scale(1,1.04)" font-size="38" font-weight="bold" text-anchor="end">spleen</text>
<text transform="translate(1630.1,623.4) rotate(-45) scale(1,1.04)" font-size="38" font-weight="bold" text-anchor="end">intestine</text>
<text transform="translate(1707.2,623.4) rotate(-45) scale(1,1.04)" font-size="38" font-weight="bold" text-anchor="end">kidney</text>
<text transform="translate(1784.2,623.4) rotate(-45) scale(1,1.04)" font-size="38" font-weight="bold" text-anchor="end">blood</text>
<text transform="translate(1861.3,623.4) rotate(-45) scale(1,1.04)" font-size="38" font-weight="bold" text-anchor="end">muscle</text>
<text transform="translate(1938.3,623.4) rotate(-45) scale(1,1.04)" font-size="38" font-weight="bold" text-anchor="end">tail</text>
<text transform="translate(2015.4,623.4) rotate(-45) scale(1,1.04)" font-size="38" font-weight="bold" text-anchor="end">salivary gland</text>
<rect x="1367.50" y="85.60" width="52.60" height="25.50" fill="#177E97" stroke="#000" stroke-width="1.7"/>
<rect x="1369.50" y="158.70" width="52.60" height="25.30" fill="#6A9AD6" stroke="#000" stroke-width="1.7"/>
<rect x="1369.50" y="225.90" width="52.60" height="25.40" fill="#19853F" stroke="#000" stroke-width="1.7"/>
<rect x="1369.50" y="293.30" width="52.60" height="25.30" fill="#ACD5A7" stroke="#000" stroke-width="1.7"/>
<text x="1451.0" y="116.3" font-size="42.3" font-weight="normal" xml:space="preserve"><tspan font-size="31.2" dy="-17.5">177</tspan><tspan dy="17.5">Lu-ProX2-(</tspan><tspan font-style="italic">S</tspan><tspan>)-DOTAGA (</tspan><tspan font-weight="bold">s40</tspan><tspan>)</tspan></text>
<text x="1453.5" y="188.2" font-size="42.3" font-weight="normal" xml:space="preserve"><tspan font-size="31.2" dy="-17.5">177</tspan><tspan dy="17.5">Lu-ProX2-(</tspan><tspan font-style="italic">R</tspan><tspan>)-DOTAGA (</tspan><tspan font-weight="bold">s41</tspan><tspan>)</tspan></text>
<text x="1453.5" y="255.9" font-size="42.3" font-weight="normal" xml:space="preserve"><tspan font-size="31.2" dy="-17.5">177</tspan><tspan dy="17.5">Lu-ProX3-(</tspan><tspan font-style="italic">S</tspan><tspan>)-DOTAGA (</tspan><tspan font-weight="bold">12</tspan><tspan>)</tspan></text>
<text x="1453.5" y="323.5" font-size="42.3" font-weight="normal" xml:space="preserve"><tspan font-size="31.2" dy="-17.5">177</tspan><tspan dy="17.5">Lu-ProX3-(</tspan><tspan font-style="italic">R</tspan><tspan>)-DOTAGA (</tspan><tspan font-weight="bold">s42</tspan><tspan>)</tspan></text>
<text transform="translate(7.6,880.6) scale(0.93,1.06)" font-size="49" font-weight="bold" text-anchor="start" style="fill:#1c1c1c;stroke:#1c1c1c">c</text>
<text transform="translate(30.0,1175.9) rotate(-90) scale(1,1.02)" font-size="41.5" font-weight="bold" text-anchor="middle">%ID/g</text>
<rect x="128.75" y="999.80" width="9.90" height="427.00" fill="#2F4D9F" stroke="#000" stroke-width="1.6"/>
<line x1="133.7" y1="999.0" x2="133.7" y2="984.3" stroke="#000" stroke-width="3.3" stroke-linecap="butt"/>
<line x1="130.7" y1="985.7" x2="136.7" y2="985.7" stroke="#000" stroke-width="3.0" stroke-linecap="butt"/>
<rect x="126.9" y="1156.3" width="13.5" height="37.5" fill="#fff"/>
<circle cx="133.7" cy="980.9" r="4.7" fill="none" stroke="#000" stroke-width="1.8"/>
<circle cx="133.7" cy="989.7" r="4.7" fill="none" stroke="#000" stroke-width="1.8"/>
<circle cx="133.7" cy="1024.3" r="4.7" fill="none" stroke="#000" stroke-width="1.8"/>
<rect x="144.15" y="1073.30" width="9.90" height="353.50" fill="#3EAD37" stroke="#000" stroke-width="1.6"/>
<line x1="149.1" y1="1072.5" x2="149.1" y2="1070.9" stroke="#000" stroke-width="3.3" stroke-linecap="butt"/>
<line x1="146.1" y1="1072.3" x2="152.1" y2="1072.3" stroke="#000" stroke-width="3.0" stroke-linecap="butt"/>
<rect x="142.3" y="1156.3" width="13.5" height="37.5" fill="#fff"/>
<circle cx="149.1" cy="1068.0" r="4.7" fill="none" stroke="#000" stroke-width="1.8"/>
<circle cx="149.1" cy="1070.0" r="4.7" fill="none" stroke="#000" stroke-width="1.8"/>
<circle cx="149.1" cy="1075.7" r="4.7" fill="none" stroke="#000" stroke-width="1.8"/>
<rect x="159.55" y="1131.40" width="9.90" height="295.40" fill="#7B469B" stroke="#000" stroke-width="1.6"/>
<line x1="164.5" y1="1130.6" x2="164.5" y2="1126.6" stroke="#000" stroke-width="3.3" stroke-linecap="butt"/>
<line x1="161.5" y1="1128.0" x2="167.5" y2="1128.0" stroke="#000" stroke-width="3.0" stroke-linecap="butt"/>
<rect x="157.8" y="1156.3" width="13.5" height="37.5" fill="#fff"/>
<circle cx="164.5" cy="1123.0" r="4.7" fill="none" stroke="#000" stroke-width="1.8"/>
<circle cx="164.5" cy="1133.6" r="4.7" fill="none" stroke="#000" stroke-width="1.8"/>
<circle cx="164.5" cy="1134.0" r="4.7" fill="none" stroke="#000" stroke-width="1.8"/>
<rect x="185.20" y="1423.00" width="9.90" height="3.80" fill="#2F4D9F" stroke="#000" stroke-width="1.6"/>
<line x1="190.1" y1="1422.2" x2="190.1" y2="1420.6" stroke="#000" stroke-width="3.3" stroke-linecap="butt"/>
<line x1="187.1" y1="1422.0" x2="193.1" y2="1422.0" stroke="#000" stroke-width="3.0" stroke-linecap="butt"/>
<circle cx="190.1" cy="1419.2" r="4.7" fill="none" stroke="#000" stroke-width="1.8"/>
<circle cx="190.1" cy="1420.8" r="4.7" fill="none" stroke="#000" stroke-width="1.8"/>
<circle cx="190.1" cy="1422.2" r="4.7" fill="none" stroke="#000" stroke-width="1.8"/>
<rect x="200.60" y="1415.00" width="9.90" height="11.80" fill="#3EAD37" stroke="#000" stroke-width="1.6"/>
<line x1="205.5" y1="1414.2" x2="205.5" y2="1412.6" stroke="#000" stroke-width="3.3" stroke-linecap="butt"/>
<line x1="202.5" y1="1414.0" x2="208.5" y2="1414.0" stroke="#000" stroke-width="3.0" stroke-linecap="butt"/>
<circle cx="205.5" cy="1409.2" r="4.7" fill="none" stroke="#000" stroke-width="1.8"/>
<circle cx="205.5" cy="1413.2" r="4.7" fill="none" stroke="#000" stroke-width="1.8"/>
<circle cx="205.5" cy="1416.2" r="4.7" fill="none" stroke="#000" stroke-width="1.8"/>
<rect x="216.00" y="1426.40" width="9.90" height="0.40" fill="#7B469B" stroke="#000" stroke-width="1.6"/>
<line x1="220.9" y1="1425.6" x2="220.9" y2="1424.0" stroke="#000" stroke-width="3.3" stroke-linecap="butt"/>
<line x1="217.9" y1="1425.4" x2="223.9" y2="1425.4" stroke="#000" stroke-width="3.0" stroke-linecap="butt"/>
<circle cx="220.9" cy="1424.2" r="4.7" fill="none" stroke="#000" stroke-width="1.8"/>
<circle cx="220.9" cy="1425.4" r="4.7" fill="none" stroke="#000" stroke-width="1.8"/>
<circle cx="220.9" cy="1426.8" r="4.7" fill="none" stroke="#000" stroke-width="1.8"/>
<rect x="241.65" y="1417.60" width="9.90" height="9.20" fill="#2F4D9F" stroke="#000" stroke-width="1.6"/>
<line x1="246.6" y1="1416.8" x2="246.6" y2="1415.2" stroke="#000" stroke-width="3.3" stroke-linecap="butt"/>
<line x1="243.6" y1="1416.6" x2="249.6" y2="1416.6" stroke="#000" stroke-width="3.0" stroke-linecap="butt"/>
<circle cx="246.6" cy="1412.8" r="4.7" fill="none" stroke="#000" stroke-width="1.8"/>
<circle cx="246.6" cy="1414.8" r="4.7" fill="none" stroke="#000" stroke-width="1.8"/>
<circle cx="246.6" cy="1416.8" r="4.7" fill="none" stroke="#000" stroke-width="1.8"/>
<rect x="257.05" y="1387.90" width="9.90" height="38.90" fill="#3EAD37" stroke="#000" stroke-width="1.6"/>
<line x1="262.0" y1="1387.1" x2="262.0" y2="1385.5" stroke="#000" stroke-width="3.3" stroke-linecap="butt"/>
<line x1="259.0" y1="1386.9" x2="265.0" y2="1386.9" stroke="#000" stroke-width="3.0" stroke-linecap="butt"/>
<circle cx="262.0" cy="1383.0" r="4.7" fill="none" stroke="#000" stroke-width="1.8"/>
<circle cx="262.0" cy="1386.0" r="4.7" fill="none" stroke="#000" stroke-width="1.8"/>
<circle cx="262.0" cy="1389.0" r="4.7" fill="none" stroke="#000" stroke-width="1.8"/>
<rect x="272.45" y="1423.00" width="9.90" height="3.80" fill="#7B469B" stroke="#000" stroke-width="1.6"/>
<line x1="277.4" y1="1422.2" x2="277.4" y2="1420.6" stroke="#000" stroke-width="3.3" stroke-linecap="butt"/>
<line x1="274.4" y1="1422.0" x2="280.4" y2="1422.0" stroke="#000" stroke-width="3.0" stroke-linecap="butt"/>
<circle cx="277.4" cy="1420.2" r="4.7" fill="none" stroke="#000" stroke-width="1.8"/>
<circle cx="277.4" cy="1423.2" r="4.7" fill="none" stroke="#000" stroke-width="1.8"/>
<circle cx="277.4" cy="1425.6" r="4.7" fill="none" stroke="#000" stroke-width="1.8"/>
<rect x="298.10" y="1408.40" width="9.90" height="18.40" fill="#2F4D9F" stroke="#000" stroke-width="1.6"/>
<line x1="303.1" y1="1407.6" x2="303.1" y2="1406.0" stroke="#000" stroke-width="3.3" stroke-linecap="butt"/>
<line x1="300.1" y1="1407.4" x2="306.1" y2="1407.4" stroke="#000" stroke-width="3.0" stroke-linecap="butt"/>
<circle cx="303.1" cy="1404.1" r="4.7" fill="none" stroke="#000" stroke-width="1.8"/>
<circle cx="303.1" cy="1406.7" r="4.7" fill="none" stroke="#000" stroke-width="1.8"/>
<circle cx="303.1" cy="1410.2" r="4.7" fill="none" stroke="#000" stroke-width="1.8"/>
<rect x="313.50" y="1341.70" width="9.90" height="85.10" fill="#3EAD37" stroke="#000" stroke-width="1.6"/>
<line x1="318.5" y1="1340.9" x2="318.5" y2="1337.9" stroke="#000" stroke-width="3.3" stroke-linecap="butt"/>
<line x1="315.5" y1="1339.3" x2="321.5" y2="1339.3" stroke="#000" stroke-width="3.0" stroke-linecap="butt"/>
<circle cx="318.5" cy="1331.8" r="4.7" fill="none" stroke="#000" stroke-width="1.8"/>
<circle cx="318.5" cy="1342.5" r="4.7" fill="none" stroke="#000" stroke-width="1.8"/>
<circle cx="318.5" cy="1344.9" r="4.7" fill="none" stroke="#000" stroke-width="1.8"/>
<rect x="328.90" y="1392.90" width="9.90" height="33.90" fill="#7B469B" stroke="#000" stroke-width="1.6"/>
<line x1="333.9" y1="1392.1" x2="333.9" y2="1381.0" stroke="#000" stroke-width="3.3" stroke-linecap="butt"/>
<line x1="330.9" y1="1382.4" x2="336.9" y2="1382.4" stroke="#000" stroke-width="3.0" stroke-linecap="butt"/>
<circle cx="333.9" cy="1376.6" r="4.7" fill="none" stroke="#000" stroke-width="1.8"/>
<circle cx="333.9" cy="1387.1" r="4.7" fill="none" stroke="#000" stroke-width="1.8"/>
<circle cx="333.9" cy="1410.2" r="4.7" fill="none" stroke="#000" stroke-width="1.8"/>
<rect x="354.55" y="1416.00" width="9.90" height="10.80" fill="#2F4D9F" stroke="#000" stroke-width="1.6"/>
<line x1="359.5" y1="1415.2" x2="359.5" y2="1413.6" stroke="#000" stroke-width="3.3" stroke-linecap="butt"/>
<line x1="356.5" y1="1415.0" x2="362.5" y2="1415.0" stroke="#000" stroke-width="3.0" stroke-linecap="butt"/>
<circle cx="359.5" cy="1410.8" r="4.7" fill="none" stroke="#000" stroke-width="1.8"/>
<circle cx="359.5" cy="1413.6" r="4.7" fill="none" stroke="#000" stroke-width="1.8"/>
<circle cx="359.5" cy="1417.2" r="4.7" fill="none" stroke="#000" stroke-width="1.8"/>
<rect x="369.95" y="1403.90" width="9.90" height="22.90" fill="#3EAD37" stroke="#000" stroke-width="1.6"/>
<line x1="374.9" y1="1403.1" x2="374.9" y2="1401.5" stroke="#000" stroke-width="3.3" stroke-linecap="butt"/>
<line x1="371.9" y1="1402.9" x2="377.9" y2="1402.9" stroke="#000" stroke-width="3.0" stroke-linecap="butt"/>
<circle cx="374.9" cy="1399.5" r="4.7" fill="none" stroke="#000" stroke-width="1.8"/>
<circle cx="374.9" cy="1402.1" r="4.7" fill="none" stroke="#000" stroke-width="1.8"/>
<circle cx="374.9" cy="1404.1" r="4.7" fill="none" stroke="#000" stroke-width="1.8"/>
<rect x="385.35" y="1425.60" width="9.90" height="1.20" fill="#7B469B" stroke="#000" stroke-width="1.6"/>
<line x1="390.3" y1="1424.8" x2="390.3" y2="1423.2" stroke="#000" stroke-width="3.3" stroke-linecap="butt"/>
<line x1="387.3" y1="1424.6" x2="393.3" y2="1424.6" stroke="#000" stroke-width="3.0" stroke-linecap="butt"/>
<circle cx="390.3" cy="1422.8" r="4.7" fill="none" stroke="#000" stroke-width="1.8"/>
<circle cx="390.3" cy="1424.8" r="4.7" fill="none" stroke="#000" stroke-width="1.8"/>
<circle cx="390.3" cy="1426.6" r="4.7" fill="none" stroke="#000" stroke-width="1.8"/>
<rect x="411.00" y="1395.50" width="9.90" height="31.30" fill="#2F4D9F" stroke="#000" stroke-width="1.6"/>
<line x1="415.9" y1="1394.7" x2="415.9" y2="1386.0" stroke="#000" stroke-width="3.3" stroke-linecap="butt"/>
<line x1="412.9" y1="1387.4" x2="418.9" y2="1387.4" stroke="#000" stroke-width="3.0" stroke-linecap="butt"/>
<circle cx="415.9" cy="1380.4" r="4.7" fill="none" stroke="#000" stroke-width="1.8"/>
<circle cx="415.9" cy="1401.1" r="4.7" fill="none" stroke="#000" stroke-width="1.8"/>
<circle cx="415.9" cy="1402.1" r="4.7" fill="none" stroke="#000" stroke-width="1.8"/>
<rect x="426.40" y="1400.30" width="9.90" height="26.50" fill="#3EAD37" stroke="#000" stroke-width="1.6"/>
<line x1="431.4" y1="1399.5" x2="431.4" y2="1391.0" stroke="#000" stroke-width="3.3" stroke-linecap="butt"/>
<line x1="428.4" y1="1392.4" x2="434.4" y2="1392.4" stroke="#000" stroke-width="3.0" stroke-linecap="butt"/>
<circle cx="431.4" cy="1386.0" r="4.7" fill="none" stroke="#000" stroke-width="1.8"/>
<circle cx="431.4" cy="1405.5" r="4.7" fill="none" stroke="#000" stroke-width="1.8"/>
<circle cx="431.4" cy="1409.2" r="4.7" fill="none" stroke="#000" stroke-width="1.8"/>
<rect x="441.80" y="1417.00" width="9.90" height="9.80" fill="#7B469B" stroke="#000" stroke-width="1.6"/>
<line x1="446.8" y1="1416.2" x2="446.8" y2="1410.2" stroke="#000" stroke-width="3.3" stroke-linecap="butt"/>
<line x1="443.8" y1="1411.6" x2="449.8" y2="1411.6" stroke="#000" stroke-width="3.0" stroke-linecap="butt"/>
<circle cx="446.8" cy="1403.7" r="4.7" fill="none" stroke="#000" stroke-width="1.8"/>
<circle cx="446.8" cy="1420.2" r="4.7" fill="none" stroke="#000" stroke-width="1.8"/>
<circle cx="446.8" cy="1423.2" r="4.7" fill="none" stroke="#000" stroke-width="1.8"/>
<rect x="467.45" y="1309.60" width="9.90" height="117.20" fill="#2F4D9F" stroke="#000" stroke-width="1.6"/>
<line x1="472.4" y1="1308.8" x2="472.4" y2="1305.7" stroke="#000" stroke-width="3.3" stroke-linecap="butt"/>
<line x1="469.4" y1="1307.1" x2="475.4" y2="1307.1" stroke="#000" stroke-width="3.0" stroke-linecap="butt"/>
<circle cx="472.4" cy="1301.7" r="4.7" fill="none" stroke="#000" stroke-width="1.8"/>
<circle cx="472.4" cy="1310.8" r="4.7" fill="none" stroke="#000" stroke-width="1.8"/>
<circle cx="472.4" cy="1312.8" r="4.7" fill="none" stroke="#000" stroke-width="1.8"/>
<rect x="482.85" y="1379.80" width="9.90" height="47.00" fill="#3EAD37" stroke="#000" stroke-width="1.6"/>
<line x1="487.8" y1="1379.0" x2="487.8" y2="1377.4" stroke="#000" stroke-width="3.3" stroke-linecap="butt"/>
<line x1="484.8" y1="1378.8" x2="490.8" y2="1378.8" stroke="#000" stroke-width="3.0" stroke-linecap="butt"/>
<circle cx="487.8" cy="1374.0" r="4.7" fill="none" stroke="#000" stroke-width="1.8"/>
<circle cx="487.8" cy="1377.0" r="4.7" fill="none" stroke="#000" stroke-width="1.8"/>
<circle cx="487.8" cy="1379.4" r="4.7" fill="none" stroke="#000" stroke-width="1.8"/>
<rect x="498.25" y="1358.80" width="9.90" height="68.00" fill="#7B469B" stroke="#000" stroke-width="1.6"/>
<line x1="503.2" y1="1358.0" x2="503.2" y2="1341.9" stroke="#000" stroke-width="3.3" stroke-linecap="butt"/>
<line x1="500.2" y1="1343.3" x2="506.2" y2="1343.3" stroke="#000" stroke-width="3.0" stroke-linecap="butt"/>
<circle cx="503.2" cy="1336.9" r="4.7" fill="none" stroke="#000" stroke-width="1.8"/>
<circle cx="503.2" cy="1351.3" r="4.7" fill="none" stroke="#000" stroke-width="1.8"/>
<circle cx="503.2" cy="1383.7" r="4.7" fill="none" stroke="#000" stroke-width="1.8"/>
<rect x="523.90" y="1420.00" width="9.90" height="6.80" fill="#2F4D9F" stroke="#000" stroke-width="1.6"/>
<line x1="528.9" y1="1419.2" x2="528.9" y2="1417.6" stroke="#000" stroke-width="3.3" stroke-linecap="butt"/>
<line x1="525.9" y1="1419.0" x2="531.9" y2="1419.0" stroke="#000" stroke-width="3.0" stroke-linecap="butt"/>
<circle cx="528.9" cy="1415.6" r="4.7" fill="none" stroke="#000" stroke-width="1.8"/>
<circle cx="528.9" cy="1417.6" r="4.7" fill="none" stroke="#000" stroke-width="1.8"/>
<circle cx="528.9" cy="1420.2" r="4.7" fill="none" stroke="#000" stroke-width="1.8"/>
<rect x="539.30" y="1387.90" width="9.90" height="38.90" fill="#3EAD37" stroke="#000" stroke-width="1.6"/>
<line x1="544.3" y1="1387.1" x2="544.3" y2="1382.0" stroke="#000" stroke-width="3.3" stroke-linecap="butt"/>
<line x1="541.3" y1="1383.4" x2="547.3" y2="1383.4" stroke="#000" stroke-width="3.0" stroke-linecap="butt"/>
<circle cx="544.3" cy="1380.0" r="4.7" fill="none" stroke="#000" stroke-width="1.8"/>
<circle cx="544.3" cy="1381.0" r="4.7" fill="none" stroke="#000" stroke-width="1.8"/>
<circle cx="544.3" cy="1398.1" r="4.7" fill="none" stroke="#000" stroke-width="1.8"/>
<rect x="554.70" y="1424.40" width="9.90" height="2.40" fill="#7B469B" stroke="#000" stroke-width="1.6"/>
<line x1="559.7" y1="1423.6" x2="559.7" y2="1422.0" stroke="#000" stroke-width="3.3" stroke-linecap="butt"/>
<line x1="556.7" y1="1423.4" x2="562.7" y2="1423.4" stroke="#000" stroke-width="3.0" stroke-linecap="butt"/>
<circle cx="559.7" cy="1423.2" r="4.7" fill="none" stroke="#000" stroke-width="1.8"/>
<circle cx="559.7" cy="1424.8" r="4.7" fill="none" stroke="#000" stroke-width="1.8"/>
<circle cx="559.7" cy="1426.2" r="4.7" fill="none" stroke="#000" stroke-width="1.8"/>
<rect x="580.35" y="1422.30" width="9.90" height="4.50" fill="#2F4D9F" stroke="#000" stroke-width="1.6"/>
<line x1="585.3" y1="1421.5" x2="585.3" y2="1419.9" stroke="#000" stroke-width="3.3" stroke-linecap="butt"/>
<line x1="582.3" y1="1421.3" x2="588.3" y2="1421.3" stroke="#000" stroke-width="3.0" stroke-linecap="butt"/>
<circle cx="585.3" cy="1420.2" r="4.7" fill="none" stroke="#000" stroke-width="1.8"/>
<circle cx="585.3" cy="1422.2" r="4.7" fill="none" stroke="#000" stroke-width="1.8"/>
<circle cx="585.3" cy="1424.2" r="4.7" fill="none" stroke="#000" stroke-width="1.8"/>
<rect x="595.75" y="1419.60" width="9.90" height="7.20" fill="#3EAD37" stroke="#000" stroke-width="1.6"/>
<line x1="600.7" y1="1418.8" x2="600.7" y2="1417.2" stroke="#000" stroke-width="3.3" stroke-linecap="butt"/>
<line x1="597.7" y1="1418.6" x2="603.7" y2="1418.6" stroke="#000" stroke-width="3.0" stroke-linecap="butt"/>
<circle cx="600.7" cy="1414.2" r="4.7" fill="none" stroke="#000" stroke-width="1.8"/>
<circle cx="600.7" cy="1420.2" r="4.7" fill="none" stroke="#000" stroke-width="1.8"/>
<circle cx="600.7" cy="1421.6" r="4.7" fill="none" stroke="#000" stroke-width="1.8"/>
<rect x="611.15" y="1423.30" width="9.90" height="3.50" fill="#7B469B" stroke="#000" stroke-width="1.6"/>
<line x1="616.1" y1="1422.5" x2="616.1" y2="1420.9" stroke="#000" stroke-width="3.3" stroke-linecap="butt"/>
<line x1="613.1" y1="1422.3" x2="619.1" y2="1422.3" stroke="#000" stroke-width="3.0" stroke-linecap="butt"/>
<circle cx="616.1" cy="1420.2" r="4.7" fill="none" stroke="#000" stroke-width="1.8"/>
<circle cx="616.1" cy="1423.2" r="4.7" fill="none" stroke="#000" stroke-width="1.8"/>
<circle cx="616.1" cy="1425.6" r="4.7" fill="none" stroke="#000" stroke-width="1.8"/>
<rect x="636.80" y="1404.90" width="9.90" height="21.90" fill="#2F4D9F" stroke="#000" stroke-width="1.6"/>
<line x1="641.8" y1="1404.1" x2="641.8" y2="1402.5" stroke="#000" stroke-width="3.3" stroke-linecap="butt"/>
<line x1="638.8" y1="1403.9" x2="644.8" y2="1403.9" stroke="#000" stroke-width="3.0" stroke-linecap="butt"/>
<circle cx="641.8" cy="1399.1" r="4.7" fill="none" stroke="#000" stroke-width="1.8"/>
<circle cx="641.8" cy="1402.1" r="4.7" fill="none" stroke="#000" stroke-width="1.8"/>
<circle cx="641.8" cy="1409.2" r="4.7" fill="none" stroke="#000" stroke-width="1.8"/>
<rect x="652.20" y="1398.90" width="9.90" height="27.90" fill="#3EAD37" stroke="#000" stroke-width="1.6"/>
<line x1="657.1" y1="1398.1" x2="657.1" y2="1396.5" stroke="#000" stroke-width="3.3" stroke-linecap="butt"/>
<line x1="654.1" y1="1397.9" x2="660.1" y2="1397.9" stroke="#000" stroke-width="3.0" stroke-linecap="butt"/>
<circle cx="657.1" cy="1392.1" r="4.7" fill="none" stroke="#000" stroke-width="1.8"/>
<circle cx="657.1" cy="1395.1" r="4.7" fill="none" stroke="#000" stroke-width="1.8"/>
<circle cx="657.1" cy="1407.6" r="4.7" fill="none" stroke="#000" stroke-width="1.8"/>
<rect x="667.60" y="1421.00" width="9.90" height="5.80" fill="#7B469B" stroke="#000" stroke-width="1.6"/>
<line x1="672.5" y1="1420.2" x2="672.5" y2="1418.6" stroke="#000" stroke-width="3.3" stroke-linecap="butt"/>
<line x1="669.5" y1="1420.0" x2="675.5" y2="1420.0" stroke="#000" stroke-width="3.0" stroke-linecap="butt"/>
<circle cx="672.5" cy="1415.2" r="4.7" fill="none" stroke="#000" stroke-width="1.8"/>
<circle cx="672.5" cy="1417.2" r="4.7" fill="none" stroke="#000" stroke-width="1.8"/>
<circle cx="672.5" cy="1420.2" r="4.7" fill="none" stroke="#000" stroke-width="1.8"/>
<rect x="693.25" y="1374.80" width="9.90" height="52.00" fill="#2F4D9F" stroke="#000" stroke-width="1.6"/>
<line x1="698.2" y1="1374.0" x2="698.2" y2="1372.4" stroke="#000" stroke-width="3.3" stroke-linecap="butt"/>
<line x1="695.2" y1="1373.8" x2="701.2" y2="1373.8" stroke="#000" stroke-width="3.0" stroke-linecap="butt"/>
<circle cx="698.2" cy="1368.0" r="4.7" fill="none" stroke="#000" stroke-width="1.8"/>
<circle cx="698.2" cy="1374.0" r="4.7" fill="none" stroke="#000" stroke-width="1.8"/>
<circle cx="698.2" cy="1376.7" r="4.7" fill="none" stroke="#000" stroke-width="1.8"/>
<rect x="708.65" y="1392.80" width="9.90" height="34.00" fill="#3EAD37" stroke="#000" stroke-width="1.6"/>
<line x1="713.6" y1="1392.0" x2="713.6" y2="1388.0" stroke="#000" stroke-width="3.3" stroke-linecap="butt"/>
<line x1="710.6" y1="1389.4" x2="716.6" y2="1389.4" stroke="#000" stroke-width="3.0" stroke-linecap="butt"/>
<circle cx="713.6" cy="1386.7" r="4.7" fill="none" stroke="#000" stroke-width="1.8"/>
<circle cx="713.6" cy="1388.5" r="4.7" fill="none" stroke="#000" stroke-width="1.8"/>
<circle cx="713.6" cy="1400.2" r="4.7" fill="none" stroke="#000" stroke-width="1.8"/>
<rect x="724.05" y="1419.00" width="9.90" height="7.80" fill="#7B469B" stroke="#000" stroke-width="1.6"/>
<line x1="729.0" y1="1418.2" x2="729.0" y2="1416.6" stroke="#000" stroke-width="3.3" stroke-linecap="butt"/>
<line x1="726.0" y1="1418.0" x2="732.0" y2="1418.0" stroke="#000" stroke-width="3.0" stroke-linecap="butt"/>
<circle cx="729.0" cy="1415.2" r="4.7" fill="none" stroke="#000" stroke-width="1.8"/>
<circle cx="729.0" cy="1418.2" r="4.7" fill="none" stroke="#000" stroke-width="1.8"/>
<circle cx="729.0" cy="1420.8" r="4.7" fill="none" stroke="#000" stroke-width="1.8"/>
<rect x="749.70" y="1354.80" width="9.90" height="72.00" fill="#2F4D9F" stroke="#000" stroke-width="1.6"/>
<line x1="754.7" y1="1354.0" x2="754.7" y2="1319.8" stroke="#000" stroke-width="3.3" stroke-linecap="butt"/>
<line x1="751.7" y1="1321.2" x2="757.7" y2="1321.2" stroke="#000" stroke-width="3.0" stroke-linecap="butt"/>
<circle cx="754.7" cy="1287.7" r="4.7" fill="none" stroke="#000" stroke-width="1.8"/>
<circle cx="754.7" cy="1380.1" r="4.7" fill="none" stroke="#000" stroke-width="1.8"/>
<circle cx="754.7" cy="1393.7" r="4.7" fill="none" stroke="#000" stroke-width="1.8"/>
<rect x="765.10" y="1412.00" width="9.90" height="14.80" fill="#3EAD37" stroke="#000" stroke-width="1.6"/>
<line x1="770.1" y1="1411.2" x2="770.1" y2="1407.2" stroke="#000" stroke-width="3.3" stroke-linecap="butt"/>
<line x1="767.1" y1="1408.6" x2="773.1" y2="1408.6" stroke="#000" stroke-width="3.0" stroke-linecap="butt"/>
<circle cx="770.1" cy="1404.2" r="4.7" fill="none" stroke="#000" stroke-width="1.8"/>
<circle cx="770.1" cy="1412.2" r="4.7" fill="none" stroke="#000" stroke-width="1.8"/>
<circle cx="770.1" cy="1414.2" r="4.7" fill="none" stroke="#000" stroke-width="1.8"/>
<rect x="780.50" y="1230.90" width="9.90" height="195.90" fill="#7B469B" stroke="#000" stroke-width="1.6"/>
<line x1="785.5" y1="1230.1" x2="785.5" y2="1145.7" stroke="#000" stroke-width="3.3" stroke-linecap="butt"/>
<line x1="782.5" y1="1147.1" x2="788.5" y2="1147.1" stroke="#000" stroke-width="3.0" stroke-linecap="butt"/>
<rect x="778.7" y="1156.3" width="13.5" height="37.5" fill="#fff"/>
<circle cx="785.5" cy="1134.5" r="4.7" fill="none" stroke="#000" stroke-width="1.8"/>
<circle cx="785.5" cy="1313.8" r="4.7" fill="none" stroke="#000" stroke-width="1.8"/>
<circle cx="785.5" cy="1423.3" r="4.7" fill="none" stroke="#000" stroke-width="1.8"/>
<rect x="806.15" y="1422.00" width="9.90" height="4.80" fill="#2F4D9F" stroke="#000" stroke-width="1.6"/>
<line x1="811.1" y1="1421.2" x2="811.1" y2="1419.6" stroke="#000" stroke-width="3.3" stroke-linecap="butt"/>
<line x1="808.1" y1="1421.0" x2="814.1" y2="1421.0" stroke="#000" stroke-width="3.0" stroke-linecap="butt"/>
<circle cx="811.1" cy="1420.2" r="4.7" fill="none" stroke="#000" stroke-width="1.8"/>
<circle cx="811.1" cy="1421.5" r="4.7" fill="none" stroke="#000" stroke-width="1.8"/>
<circle cx="811.1" cy="1423.3" r="4.7" fill="none" stroke="#000" stroke-width="1.8"/>
<rect x="821.55" y="1420.80" width="9.90" height="6.00" fill="#3EAD37" stroke="#000" stroke-width="1.6"/>
<line x1="826.5" y1="1420.0" x2="826.5" y2="1418.4" stroke="#000" stroke-width="3.3" stroke-linecap="butt"/>
<line x1="823.5" y1="1419.8" x2="829.5" y2="1419.8" stroke="#000" stroke-width="3.0" stroke-linecap="butt"/>
<circle cx="826.5" cy="1418.2" r="4.7" fill="none" stroke="#000" stroke-width="1.8"/>
<circle cx="826.5" cy="1420.2" r="4.7" fill="none" stroke="#000" stroke-width="1.8"/>
<circle cx="826.5" cy="1422.2" r="4.7" fill="none" stroke="#000" stroke-width="1.8"/>
<rect x="836.95" y="1418.00" width="9.90" height="8.80" fill="#7B469B" stroke="#000" stroke-width="1.6"/>
<line x1="841.9" y1="1417.2" x2="841.9" y2="1411.2" stroke="#000" stroke-width="3.3" stroke-linecap="butt"/>
<line x1="838.9" y1="1412.6" x2="844.9" y2="1412.6" stroke="#000" stroke-width="3.0" stroke-linecap="butt"/>
<circle cx="841.9" cy="1408.2" r="4.7" fill="none" stroke="#000" stroke-width="1.8"/>
<circle cx="841.9" cy="1414.2" r="4.7" fill="none" stroke="#000" stroke-width="1.8"/>
<circle cx="841.9" cy="1426.9" r="4.7" fill="none" stroke="#000" stroke-width="1.8"/>
<rect x="862.60" y="1419.60" width="9.90" height="7.20" fill="#2F4D9F" stroke="#000" stroke-width="1.6"/>
<line x1="867.6" y1="1418.8" x2="867.6" y2="1415.0" stroke="#000" stroke-width="3.3" stroke-linecap="butt"/>
<line x1="864.6" y1="1416.4" x2="870.6" y2="1416.4" stroke="#000" stroke-width="3.0" stroke-linecap="butt"/>
<circle cx="867.6" cy="1411.8" r="4.7" fill="none" stroke="#000" stroke-width="1.8"/>
<circle cx="867.6" cy="1421.2" r="4.7" fill="none" stroke="#000" stroke-width="1.8"/>
<circle cx="867.6" cy="1422.2" r="4.7" fill="none" stroke="#000" stroke-width="1.8"/>
<rect x="878.00" y="1413.00" width="9.90" height="13.80" fill="#3EAD37" stroke="#000" stroke-width="1.6"/>
<line x1="883.0" y1="1412.2" x2="883.0" y2="1410.6" stroke="#000" stroke-width="3.3" stroke-linecap="butt"/>
<line x1="880.0" y1="1412.0" x2="886.0" y2="1412.0" stroke="#000" stroke-width="3.0" stroke-linecap="butt"/>
<circle cx="883.0" cy="1409.2" r="4.7" fill="none" stroke="#000" stroke-width="1.8"/>
<circle cx="883.0" cy="1411.2" r="4.7" fill="none" stroke="#000" stroke-width="1.8"/>
<circle cx="883.0" cy="1413.2" r="4.7" fill="none" stroke="#000" stroke-width="1.8"/>
<rect x="893.40" y="1420.00" width="9.90" height="6.80" fill="#7B469B" stroke="#000" stroke-width="1.6"/>
<line x1="898.4" y1="1419.2" x2="898.4" y2="1415.5" stroke="#000" stroke-width="3.3" stroke-linecap="butt"/>
<line x1="895.4" y1="1416.9" x2="901.4" y2="1416.9" stroke="#000" stroke-width="3.0" stroke-linecap="butt"/>
<circle cx="898.4" cy="1413.6" r="4.7" fill="none" stroke="#000" stroke-width="1.8"/>
<circle cx="898.4" cy="1420.2" r="4.7" fill="none" stroke="#000" stroke-width="1.8"/>
<circle cx="898.4" cy="1421.2" r="4.7" fill="none" stroke="#000" stroke-width="1.8"/>
<rect x="919.05" y="1421.00" width="9.90" height="5.80" fill="#2F4D9F" stroke="#000" stroke-width="1.6"/>
<line x1="924.0" y1="1420.2" x2="924.0" y2="1418.6" stroke="#000" stroke-width="3.3" stroke-linecap="butt"/>
<line x1="921.0" y1="1420.0" x2="927.0" y2="1420.0" stroke="#000" stroke-width="3.0" stroke-linecap="butt"/>
<circle cx="924.0" cy="1418.2" r="4.7" fill="none" stroke="#000" stroke-width="1.8"/>
<circle cx="924.0" cy="1420.2" r="4.7" fill="none" stroke="#000" stroke-width="1.8"/>
<circle cx="924.0" cy="1421.2" r="4.7" fill="none" stroke="#000" stroke-width="1.8"/>
<rect x="934.45" y="1420.00" width="9.90" height="6.80" fill="#3EAD37" stroke="#000" stroke-width="1.6"/>
<line x1="939.4" y1="1419.2" x2="939.4" y2="1417.6" stroke="#000" stroke-width="3.3" stroke-linecap="butt"/>
<line x1="936.4" y1="1419.0" x2="942.4" y2="1419.0" stroke="#000" stroke-width="3.0" stroke-linecap="butt"/>
<circle cx="939.4" cy="1416.8" r="4.7" fill="none" stroke="#000" stroke-width="1.8"/>
<circle cx="939.4" cy="1419.2" r="4.7" fill="none" stroke="#000" stroke-width="1.8"/>
<circle cx="939.4" cy="1420.8" r="4.7" fill="none" stroke="#000" stroke-width="1.8"/>
<rect x="949.85" y="1423.60" width="9.90" height="3.20" fill="#7B469B" stroke="#000" stroke-width="1.6"/>
<line x1="954.8" y1="1422.8" x2="954.8" y2="1421.2" stroke="#000" stroke-width="3.3" stroke-linecap="butt"/>
<line x1="951.8" y1="1422.6" x2="957.8" y2="1422.6" stroke="#000" stroke-width="3.0" stroke-linecap="butt"/>
<circle cx="954.8" cy="1418.2" r="4.7" fill="none" stroke="#000" stroke-width="1.8"/>
<circle cx="954.8" cy="1423.2" r="4.7" fill="none" stroke="#000" stroke-width="1.8"/>
<circle cx="954.8" cy="1425.2" r="4.7" fill="none" stroke="#000" stroke-width="1.8"/>
<line x1="123.4" y1="921.6" x2="123.4" y2="1158.0" stroke="#000" stroke-width="3.4" stroke-linecap="butt"/>
<line x1="123.4" y1="1192.1" x2="123.4" y2="1428.5" stroke="#000" stroke-width="3.4" stroke-linecap="butt"/>
<line x1="103.3" y1="923.3" x2="123.4" y2="923.3" stroke="#000" stroke-width="3.4" stroke-linecap="butt"/>
<line x1="103.3" y1="1008.0" x2="123.4" y2="1008.0" stroke="#000" stroke-width="3.4" stroke-linecap="butt"/>
<line x1="103.3" y1="1092.6" x2="123.4" y2="1092.6" stroke="#000" stroke-width="3.4" stroke-linecap="butt"/>
<line x1="111.0" y1="1156.3" x2="136.0" y2="1156.3" stroke="#000" stroke-width="3.4" stroke-linecap="butt"/>
<line x1="111.0" y1="1193.8" x2="136.0" y2="1193.8" stroke="#000" stroke-width="3.4" stroke-linecap="butt"/>
<line x1="103.3" y1="1380.2" x2="123.4" y2="1380.2" stroke="#000" stroke-width="3.4" stroke-linecap="butt"/>
<line x1="103.3" y1="1333.6" x2="123.4" y2="1333.6" stroke="#000" stroke-width="3.4" stroke-linecap="butt"/>
<line x1="103.3" y1="1287.0" x2="123.4" y2="1287.0" stroke="#000" stroke-width="3.4" stroke-linecap="butt"/>
<line x1="103.3" y1="1240.4" x2="123.4" y2="1240.4" stroke="#000" stroke-width="3.4" stroke-linecap="butt"/>
<line x1="103.3" y1="1426.8" x2="966.7" y2="1426.8" stroke="#000" stroke-width="3.4" stroke-linecap="butt"/>
<line x1="148.5" y1="1426.8" x2="148.5" y2="1447.1" stroke="#000" stroke-width="3.4" stroke-linecap="butt"/>
<line x1="204.9" y1="1426.8" x2="204.9" y2="1447.1" stroke="#000" stroke-width="3.4" stroke-linecap="butt"/>
<line x1="261.4" y1="1426.8" x2="261.4" y2="1447.1" stroke="#000" stroke-width="3.4" stroke-linecap="butt"/>
<line x1="317.9" y1="1426.8" x2="317.9" y2="1447.1" stroke="#000" stroke-width="3.4" stroke-linecap="butt"/>
<line x1="374.3" y1="1426.8" x2="374.3" y2="1447.1" stroke="#000" stroke-width="3.4" stroke-linecap="butt"/>
<line x1="430.8" y1="1426.8" x2="430.8" y2="1447.1" stroke="#000" stroke-width="3.4" stroke-linecap="butt"/>
<line x1="487.2" y1="1426.8" x2="487.2" y2="1447.1" stroke="#000" stroke-width="3.4" stroke-linecap="butt"/>
<line x1="543.7" y1="1426.8" x2="543.7" y2="1447.1" stroke="#000" stroke-width="3.4" stroke-linecap="butt"/>
<line x1="600.1" y1="1426.8" x2="600.1" y2="1447.1" stroke="#000" stroke-width="3.4" stroke-linecap="butt"/>
<line x1="656.5" y1="1426.8" x2="656.5" y2="1447.1" stroke="#000" stroke-width="3.4" stroke-linecap="butt"/>
<line x1="713.0" y1="1426.8" x2="713.0" y2="1447.1" stroke="#000" stroke-width="3.4" stroke-linecap="butt"/>
<line x1="769.5" y1="1426.8" x2="769.5" y2="1447.1" stroke="#000" stroke-width="3.4" stroke-linecap="butt"/>
<line x1="825.9" y1="1426.8" x2="825.9" y2="1447.1" stroke="#000" stroke-width="3.4" stroke-linecap="butt"/>
<line x1="882.4" y1="1426.8" x2="882.4" y2="1447.1" stroke="#000" stroke-width="3.4" stroke-linecap="butt"/>
<line x1="938.8" y1="1426.8" x2="938.8" y2="1447.1" stroke="#000" stroke-width="3.4" stroke-linecap="butt"/>
<text transform="translate(97.9,937.7) scale(1,1.04)" font-size="38" font-weight="bold" text-anchor="end" >60</text>
<text transform="translate(97.9,1022.4) scale(1,1.04)" font-size="38" font-weight="bold" text-anchor="end" >40</text>
<text transform="translate(97.9,1107.0) scale(1,1.04)" font-size="38" font-weight="bold" text-anchor="end" >20</text>
<text transform="translate(97.9,1208.2) scale(1,1.04)" font-size="38" font-weight="bold" text-anchor="end" >5</text>
<text transform="translate(97.9,1441.2) scale(1,1.04)" font-size="38" font-weight="bold" text-anchor="end" >0</text>
<text transform="translate(97.9,1394.6) scale(1,1.04)" font-size="38" font-weight="bold" text-anchor="end" >1</text>
<text transform="translate(97.9,1348.0) scale(1,1.04)" font-size="38" font-weight="bold" text-anchor="end" >2</text>
<text transform="translate(97.9,1301.4) scale(1,1.04)" font-size="38" font-weight="bold" text-anchor="end" >3</text>
<text transform="translate(97.9,1254.8) scale(1,1.04)" font-size="38" font-weight="bold" text-anchor="end" >4</text>
<text transform="translate(161.5,1483.8) rotate(-45) scale(1,1.04)" font-size="38.3" font-weight="bold" text-anchor="end">tumor</text>
<text transform="translate(217.9,1483.8) rotate(-45) scale(1,1.04)" font-size="38.3" font-weight="bold" text-anchor="end">heart</text>
<text transform="translate(274.4,1483.8) rotate(-45) scale(1,1.04)" font-size="38.3" font-weight="bold" text-anchor="end">lung</text>
<text transform="translate(330.9,1483.8) rotate(-45) scale(1,1.04)" font-size="38.3" font-weight="bold" text-anchor="end">liver</text>
<text transform="translate(387.3,1483.8) rotate(-45) scale(1,1.04)" font-size="38.3" font-weight="bold" text-anchor="end">spleen</text>
<text transform="translate(443.8,1483.8) rotate(-45) scale(1,1.04)" font-size="38.3" font-weight="bold" text-anchor="end">intestine</text>
<text transform="translate(500.2,1483.8) rotate(-45) scale(1,1.04)" font-size="38.3" font-weight="bold" text-anchor="end">kidney</text>
<text transform="translate(556.7,1483.8) rotate(-45) scale(1,1.04)" font-size="38.3" font-weight="bold" text-anchor="end">blood</text>
<text transform="translate(613.1,1483.8) rotate(-45) scale(1,1.04)" font-size="38.3" font-weight="bold" text-anchor="end">muscle</text>
<text transform="translate(669.5,1483.8) rotate(-45) scale(1,1.04)" font-size="38.3" font-weight="bold" text-anchor="end">tail</text>
<text transform="translate(726.0,1483.8) rotate(-45) scale(1,1.04)" font-size="38.3" font-weight="bold" text-anchor="end">salivary gland</text>
<text transform="translate(782.5,1483.8) rotate(-45) scale(1,1.04)" font-size="38.3" font-weight="bold" text-anchor="end">prostate</text>
<text transform="translate(838.9,1483.8) rotate(-45) scale(1,1.04)" font-size="38.3" font-weight="bold" text-anchor="end">seminal vesicles</text>
<text transform="translate(895.4,1483.8) rotate(-45) scale(1,1.04)" font-size="38.3" font-weight="bold" text-anchor="end">testicles</text>
<text transform="translate(951.8,1483.8) rotate(-45) scale(1,1.04)" font-size="38.3" font-weight="bold" text-anchor="end">bone</text>
<rect x="288.70" y="955.00" width="52.40" height="25.40" fill="#2F4D9F" stroke="#000" stroke-width="1.7"/>
<rect x="288.70" y="1022.00" width="52.40" height="25.40" fill="#3EAD37" stroke="#000" stroke-width="1.7"/>
<rect x="288.70" y="1089.20" width="52.40" height="25.40" fill="#7B469B" stroke="#000" stroke-width="1.7"/>
<text x="372.7" y="985.8" font-size="42.3" font-weight="normal" xml:space="preserve"><tspan font-size="31.2" dy="-17.5">177</tspan><tspan dy="17.5">Lu-ProX1-(</tspan><tspan font-style="italic">SS</tspan><tspan>)-DOTAGA (</tspan><tspan font-weight="bold">11</tspan><tspan>)</tspan></text>
<text x="372.7" y="1053.4" font-size="42.3" font-weight="normal" xml:space="preserve"><tspan font-size="31.2" dy="-17.5">177</tspan><tspan dy="17.5">Lu-ProX3-(</tspan><tspan font-style="italic">S</tspan><tspan>)-DOTAGA (</tspan><tspan font-weight="bold">12</tspan><tspan>)</tspan></text>
<text x="372.7" y="1119.9" font-size="42.3" font-weight="normal" xml:space="preserve"><tspan font-size="31.2" dy="-17.5">177</tspan><tspan dy="17.5">Lu-ProXBM-DOTAGA  (</tspan><tspan font-weight="bold">10)</tspan></text>
<text transform="translate(1080.5,879.8) scale(1.0,1.0)" font-size="49" font-weight="bold" text-anchor="start" style="fill:#1c1c1c;stroke:#1c1c1c">d</text>
<text transform="translate(1104.0,1169.5) rotate(-90) scale(1,1.02)" font-size="42" font-weight="bold" text-anchor="middle">%ID/g</text>
<rect x="1205.30" y="1046.20" width="10.20" height="378.20" fill="#2F4D9F" stroke="#000" stroke-width="1.6"/>
<line x1="1210.4" y1="1045.4" x2="1210.4" y2="979.3" stroke="#000" stroke-width="3.3" stroke-linecap="butt"/>
<line x1="1207.6" y1="980.7" x2="1213.2" y2="980.7" stroke="#000" stroke-width="3.0" stroke-linecap="butt"/>
<circle cx="1210.4" cy="916.7" r="4.7" fill="none" stroke="#000" stroke-width="1.8"/>
<circle cx="1210.4" cy="1087.6" r="4.7" fill="none" stroke="#000" stroke-width="1.8"/>
<circle cx="1210.4" cy="1131.0" r="4.7" fill="none" stroke="#000" stroke-width="1.8"/>
<rect x="1221.30" y="1342.00" width="10.20" height="82.40" fill="#BEBAE3"/>
<svg x="1221.30" y="1342.00" width="10.20" height="82.40" viewBox="1221.30 1342.00 10.20 82.40" overflow="hidden">
<polygon points="1219.30,1285.00 1233.50,1270.80 1233.50,1279.80 1219.30,1294.00" fill="#4B4B22"/>
<polygon points="1219.30,1311.00 1233.50,1296.80 1233.50,1305.80 1219.30,1320.00" fill="#4B4B22"/>
<polygon points="1219.30,1337.00 1233.50,1322.80 1233.50,1331.80 1219.30,1346.00" fill="#4B4B22"/>
<polygon points="1219.30,1363.00 1233.50,1348.80 1233.50,1357.80 1219.30,1372.00" fill="#4B4B22"/>
<polygon points="1219.30,1389.00 1233.50,1374.80 1233.50,1383.80 1219.30,1398.00" fill="#4B4B22"/>
<polygon points="1219.30,1415.00 1233.50,1400.80 1233.50,1409.80 1219.30,1424.00" fill="#4B4B22"/>
<polygon points="1219.30,1441.00 1233.50,1426.80 1233.50,1435.80 1219.30,1450.00" fill="#4B4B22"/>
<polygon points="1219.30,1467.00 1233.50,1452.80 1233.50,1461.80 1219.30,1476.00" fill="#4B4B22"/>
</svg>
<rect x="1221.30" y="1342.00" width="10.20" height="82.40" fill="none" stroke="#000" stroke-width="1.6"/>
<circle cx="1226.4" cy="1274.0" r="4.7" fill="none" stroke="#000" stroke-width="1.8"/>
<circle cx="1226.4" cy="1408.2" r="4.7" fill="none" stroke="#000" stroke-width="1.8"/>
<rect x="1237.30" y="1419.10" width="10.20" height="5.30" fill="#19853F" stroke="#000" stroke-width="1.6"/>
<line x1="1242.4" y1="1418.3" x2="1242.4" y2="1416.7" stroke="#000" stroke-width="3.3" stroke-linecap="butt"/>
<line x1="1239.6" y1="1418.1" x2="1245.2" y2="1418.1" stroke="#000" stroke-width="3.0" stroke-linecap="butt"/>
<circle cx="1242.4" cy="1417.0" r="4.7" fill="none" stroke="#000" stroke-width="1.8"/>
<circle cx="1242.4" cy="1417.8" r="4.7" fill="none" stroke="#000" stroke-width="1.8"/>
<rect x="1264.30" y="1422.30" width="10.20" height="2.10" fill="#2F4D9F" stroke="#000" stroke-width="1.6"/>
<line x1="1269.4" y1="1421.5" x2="1269.4" y2="1419.9" stroke="#000" stroke-width="3.3" stroke-linecap="butt"/>
<line x1="1266.6" y1="1421.3" x2="1272.2" y2="1421.3" stroke="#000" stroke-width="3.0" stroke-linecap="butt"/>
<circle cx="1269.4" cy="1420.5" r="4.7" fill="none" stroke="#000" stroke-width="1.8"/>
<circle cx="1269.4" cy="1421.5" r="4.7" fill="none" stroke="#000" stroke-width="1.8"/>
<rect x="1280.30" y="1421.30" width="10.20" height="3.10" fill="#BEBAE3"/>
<svg x="1280.30" y="1421.30" width="10.20" height="3.10" viewBox="1280.30 1421.30 10.20 3.10" overflow="hidden">
<polygon points="1278.30,1363.00 1292.50,1348.80 1292.50,1357.80 1278.30,1372.00" fill="#4B4B22"/>
<polygon points="1278.30,1389.00 1292.50,1374.80 1292.50,1383.80 1278.30,1398.00" fill="#4B4B22"/>
<polygon points="1278.30,1415.00 1292.50,1400.80 1292.50,1409.80 1278.30,1424.00" fill="#4B4B22"/>
<polygon points="1278.30,1441.00 1292.50,1426.80 1292.50,1435.80 1278.30,1450.00" fill="#4B4B22"/>
<polygon points="1278.30,1467.00 1292.50,1452.80 1292.50,1461.80 1278.30,1476.00" fill="#4B4B22"/>
</svg>
<rect x="1280.30" y="1421.30" width="10.20" height="3.10" fill="none" stroke="#000" stroke-width="1.6"/>
<line x1="1285.4" y1="1420.5" x2="1285.4" y2="1418.9" stroke="#000" stroke-width="3.3" stroke-linecap="butt"/>
<line x1="1282.6" y1="1420.3" x2="1288.2" y2="1420.3" stroke="#000" stroke-width="3.0" stroke-linecap="butt"/>
<circle cx="1285.4" cy="1419.3" r="4.7" fill="none" stroke="#000" stroke-width="1.8"/>
<circle cx="1285.4" cy="1420.5" r="4.7" fill="none" stroke="#000" stroke-width="1.8"/>
<rect x="1296.30" y="1420.30" width="10.20" height="4.10" fill="#19853F" stroke="#000" stroke-width="1.6"/>
<line x1="1301.4" y1="1419.5" x2="1301.4" y2="1417.9" stroke="#000" stroke-width="3.3" stroke-linecap="butt"/>
<line x1="1298.6" y1="1419.3" x2="1304.2" y2="1419.3" stroke="#000" stroke-width="3.0" stroke-linecap="butt"/>
<circle cx="1301.4" cy="1418.3" r="4.7" fill="none" stroke="#000" stroke-width="1.8"/>
<circle cx="1301.4" cy="1419.5" r="4.7" fill="none" stroke="#000" stroke-width="1.8"/>
<rect x="1323.30" y="1395.90" width="10.20" height="28.50" fill="#2F4D9F" stroke="#000" stroke-width="1.6"/>
<line x1="1328.4" y1="1395.1" x2="1328.4" y2="1393.0" stroke="#000" stroke-width="3.3" stroke-linecap="butt"/>
<line x1="1325.6" y1="1394.4" x2="1331.2" y2="1394.4" stroke="#000" stroke-width="3.0" stroke-linecap="butt"/>
<circle cx="1328.4" cy="1391.1" r="4.7" fill="none" stroke="#000" stroke-width="1.8"/>
<circle cx="1328.4" cy="1393.1" r="4.7" fill="none" stroke="#000" stroke-width="1.8"/>
<circle cx="1328.4" cy="1402.2" r="4.7" fill="none" stroke="#000" stroke-width="1.8"/>
<rect x="1339.30" y="1394.90" width="10.20" height="29.50" fill="#BEBAE3"/>
<svg x="1339.30" y="1394.90" width="10.20" height="29.50" viewBox="1339.30 1394.90 10.20 29.50" overflow="hidden">
<polygon points="1337.30,1337.00 1351.50,1322.80 1351.50,1331.80 1337.30,1346.00" fill="#4B4B22"/>
<polygon points="1337.30,1363.00 1351.50,1348.80 1351.50,1357.80 1337.30,1372.00" fill="#4B4B22"/>
<polygon points="1337.30,1389.00 1351.50,1374.80 1351.50,1383.80 1337.30,1398.00" fill="#4B4B22"/>
<polygon points="1337.30,1415.00 1351.50,1400.80 1351.50,1409.80 1337.30,1424.00" fill="#4B4B22"/>
<polygon points="1337.30,1441.00 1351.50,1426.80 1351.50,1435.80 1337.30,1450.00" fill="#4B4B22"/>
<polygon points="1337.30,1467.00 1351.50,1452.80 1351.50,1461.80 1337.30,1476.00" fill="#4B4B22"/>
</svg>
<rect x="1339.30" y="1394.90" width="10.20" height="29.50" fill="none" stroke="#000" stroke-width="1.6"/>
<line x1="1344.4" y1="1394.1" x2="1344.4" y2="1392.5" stroke="#000" stroke-width="3.3" stroke-linecap="butt"/>
<line x1="1341.6" y1="1393.9" x2="1347.2" y2="1393.9" stroke="#000" stroke-width="3.0" stroke-linecap="butt"/>
<circle cx="1344.4" cy="1387.6" r="4.7" fill="none" stroke="#000" stroke-width="1.8"/>
<circle cx="1344.4" cy="1399.1" r="4.7" fill="none" stroke="#000" stroke-width="1.8"/>
<rect x="1355.30" y="1387.80" width="10.20" height="36.60" fill="#19853F" stroke="#000" stroke-width="1.6"/>
<line x1="1360.4" y1="1387.0" x2="1360.4" y2="1385.4" stroke="#000" stroke-width="3.3" stroke-linecap="butt"/>
<line x1="1357.6" y1="1386.8" x2="1363.2" y2="1386.8" stroke="#000" stroke-width="3.0" stroke-linecap="butt"/>
<circle cx="1360.4" cy="1381.6" r="4.7" fill="none" stroke="#000" stroke-width="1.8"/>
<circle cx="1360.4" cy="1392.1" r="4.7" fill="none" stroke="#000" stroke-width="1.8"/>
<rect x="1382.30" y="1399.90" width="10.20" height="24.50" fill="#2F4D9F" stroke="#000" stroke-width="1.6"/>
<line x1="1387.4" y1="1399.1" x2="1387.4" y2="1396.0" stroke="#000" stroke-width="3.3" stroke-linecap="butt"/>
<line x1="1384.6" y1="1397.4" x2="1390.2" y2="1397.4" stroke="#000" stroke-width="3.0" stroke-linecap="butt"/>
<circle cx="1387.4" cy="1395.1" r="4.7" fill="none" stroke="#000" stroke-width="1.8"/>
<circle cx="1387.4" cy="1399.1" r="4.7" fill="none" stroke="#000" stroke-width="1.8"/>
<circle cx="1387.4" cy="1406.2" r="4.7" fill="none" stroke="#000" stroke-width="1.8"/>
<rect x="1398.30" y="1386.80" width="10.20" height="37.60" fill="#BEBAE3"/>
<svg x="1398.30" y="1386.80" width="10.20" height="37.60" viewBox="1398.30 1386.80 10.20 37.60" overflow="hidden">
<polygon points="1396.30,1337.00 1410.50,1322.80 1410.50,1331.80 1396.30,1346.00" fill="#4B4B22"/>
<polygon points="1396.30,1363.00 1410.50,1348.80 1410.50,1357.80 1396.30,1372.00" fill="#4B4B22"/>
<polygon points="1396.30,1389.00 1410.50,1374.80 1410.50,1383.80 1396.30,1398.00" fill="#4B4B22"/>
<polygon points="1396.30,1415.00 1410.50,1400.80 1410.50,1409.80 1396.30,1424.00" fill="#4B4B22"/>
<polygon points="1396.30,1441.00 1410.50,1426.80 1410.50,1435.80 1396.30,1450.00" fill="#4B4B22"/>
<polygon points="1396.30,1467.00 1410.50,1452.80 1410.50,1461.80 1396.30,1476.00" fill="#4B4B22"/>
</svg>
<rect x="1398.30" y="1386.80" width="10.20" height="37.60" fill="none" stroke="#000" stroke-width="1.6"/>
<line x1="1403.4" y1="1386.0" x2="1403.4" y2="1384.4" stroke="#000" stroke-width="3.3" stroke-linecap="butt"/>
<line x1="1400.6" y1="1385.8" x2="1406.2" y2="1385.8" stroke="#000" stroke-width="3.0" stroke-linecap="butt"/>
<circle cx="1403.4" cy="1383.0" r="4.7" fill="none" stroke="#000" stroke-width="1.8"/>
<circle cx="1403.4" cy="1385.0" r="4.7" fill="none" stroke="#000" stroke-width="1.8"/>
<circle cx="1403.4" cy="1388.0" r="4.7" fill="none" stroke="#000" stroke-width="1.8"/>
<rect x="1414.30" y="1377.80" width="10.20" height="46.60" fill="#19853F" stroke="#000" stroke-width="1.6"/>
<line x1="1419.4" y1="1377.0" x2="1419.4" y2="1375.4" stroke="#000" stroke-width="3.3" stroke-linecap="butt"/>
<line x1="1416.6" y1="1376.8" x2="1422.2" y2="1376.8" stroke="#000" stroke-width="3.0" stroke-linecap="butt"/>
<circle cx="1419.4" cy="1371.9" r="4.7" fill="none" stroke="#000" stroke-width="1.8"/>
<circle cx="1419.4" cy="1380.0" r="4.7" fill="none" stroke="#000" stroke-width="1.8"/>
<rect x="1441.30" y="1402.90" width="10.20" height="21.50" fill="#2F4D9F" stroke="#000" stroke-width="1.6"/>
<line x1="1446.4" y1="1402.1" x2="1446.4" y2="1396.6" stroke="#000" stroke-width="3.3" stroke-linecap="butt"/>
<line x1="1443.6" y1="1398.0" x2="1449.2" y2="1398.0" stroke="#000" stroke-width="3.0" stroke-linecap="butt"/>
<circle cx="1446.4" cy="1393.7" r="4.7" fill="none" stroke="#000" stroke-width="1.8"/>
<circle cx="1446.4" cy="1399.6" r="4.7" fill="none" stroke="#000" stroke-width="1.8"/>
<circle cx="1446.4" cy="1412.2" r="4.7" fill="none" stroke="#000" stroke-width="1.8"/>
<rect x="1457.30" y="1396.70" width="10.20" height="27.70" fill="#BEBAE3"/>
<svg x="1457.30" y="1396.70" width="10.20" height="27.70" viewBox="1457.30 1396.70 10.20 27.70" overflow="hidden">
<polygon points="1455.30,1363.00 1469.50,1348.80 1469.50,1357.80 1455.30,1372.00" fill="#4B4B22"/>
<polygon points="1455.30,1389.00 1469.50,1374.80 1469.50,1383.80 1455.30,1398.00" fill="#4B4B22"/>
<polygon points="1455.30,1415.00 1469.50,1400.80 1469.50,1409.80 1455.30,1424.00" fill="#4B4B22"/>
<polygon points="1455.30,1441.00 1469.50,1426.80 1469.50,1435.80 1455.30,1450.00" fill="#4B4B22"/>
<polygon points="1455.30,1467.00 1469.50,1452.80 1469.50,1461.80 1455.30,1476.00" fill="#4B4B22"/>
</svg>
<rect x="1457.30" y="1396.70" width="10.20" height="27.70" fill="none" stroke="#000" stroke-width="1.6"/>
<line x1="1462.4" y1="1395.9" x2="1462.4" y2="1394.3" stroke="#000" stroke-width="3.3" stroke-linecap="butt"/>
<line x1="1459.6" y1="1395.7" x2="1465.2" y2="1395.7" stroke="#000" stroke-width="3.0" stroke-linecap="butt"/>
<circle cx="1462.4" cy="1394.5" r="4.7" fill="none" stroke="#000" stroke-width="1.8"/>
<circle cx="1462.4" cy="1396.2" r="4.7" fill="none" stroke="#000" stroke-width="1.8"/>
<rect x="1473.30" y="1389.50" width="10.20" height="34.90" fill="#19853F" stroke="#000" stroke-width="1.6"/>
<line x1="1478.4" y1="1388.7" x2="1478.4" y2="1387.1" stroke="#000" stroke-width="3.3" stroke-linecap="butt"/>
<line x1="1475.6" y1="1388.5" x2="1481.2" y2="1388.5" stroke="#000" stroke-width="3.0" stroke-linecap="butt"/>
<circle cx="1478.4" cy="1383.3" r="4.7" fill="none" stroke="#000" stroke-width="1.8"/>
<circle cx="1478.4" cy="1389.5" r="4.7" fill="none" stroke="#000" stroke-width="1.8"/>
<rect x="1500.30" y="1365.90" width="10.20" height="58.50" fill="#2F4D9F" stroke="#000" stroke-width="1.6"/>
<line x1="1505.4" y1="1365.1" x2="1505.4" y2="1342.4" stroke="#000" stroke-width="3.3" stroke-linecap="butt"/>
<line x1="1502.6" y1="1343.8" x2="1508.2" y2="1343.8" stroke="#000" stroke-width="3.0" stroke-linecap="butt"/>
<circle cx="1505.4" cy="1326.1" r="4.7" fill="none" stroke="#000" stroke-width="1.8"/>
<circle cx="1505.4" cy="1364.3" r="4.7" fill="none" stroke="#000" stroke-width="1.8"/>
<circle cx="1505.4" cy="1408.0" r="4.7" fill="none" stroke="#000" stroke-width="1.8"/>
<rect x="1516.30" y="1413.00" width="10.20" height="11.40" fill="#BEBAE3"/>
<svg x="1516.30" y="1413.00" width="10.20" height="11.40" viewBox="1516.30 1413.00 10.20 11.40" overflow="hidden">
<polygon points="1514.30,1363.00 1528.50,1348.80 1528.50,1357.80 1514.30,1372.00" fill="#4B4B22"/>
<polygon points="1514.30,1389.00 1528.50,1374.80 1528.50,1383.80 1514.30,1398.00" fill="#4B4B22"/>
<polygon points="1514.30,1415.00 1528.50,1400.80 1528.50,1409.80 1514.30,1424.00" fill="#4B4B22"/>
<polygon points="1514.30,1441.00 1528.50,1426.80 1528.50,1435.80 1514.30,1450.00" fill="#4B4B22"/>
<polygon points="1514.30,1467.00 1528.50,1452.80 1528.50,1461.80 1514.30,1476.00" fill="#4B4B22"/>
</svg>
<rect x="1516.30" y="1413.00" width="10.20" height="11.40" fill="none" stroke="#000" stroke-width="1.6"/>
<line x1="1521.4" y1="1412.2" x2="1521.4" y2="1410.6" stroke="#000" stroke-width="3.3" stroke-linecap="butt"/>
<line x1="1518.6" y1="1412.0" x2="1524.2" y2="1412.0" stroke="#000" stroke-width="3.0" stroke-linecap="butt"/>
<circle cx="1521.4" cy="1408.0" r="4.7" fill="none" stroke="#000" stroke-width="1.8"/>
<circle cx="1521.4" cy="1412.2" r="4.7" fill="none" stroke="#000" stroke-width="1.8"/>
<rect x="1532.30" y="1406.80" width="10.20" height="17.60" fill="#19853F" stroke="#000" stroke-width="1.6"/>
<line x1="1537.4" y1="1406.0" x2="1537.4" y2="1404.4" stroke="#000" stroke-width="3.3" stroke-linecap="butt"/>
<line x1="1534.6" y1="1405.8" x2="1540.2" y2="1405.8" stroke="#000" stroke-width="3.0" stroke-linecap="butt"/>
<circle cx="1537.4" cy="1401.3" r="4.7" fill="none" stroke="#000" stroke-width="1.8"/>
<circle cx="1537.4" cy="1407.2" r="4.7" fill="none" stroke="#000" stroke-width="1.8"/>
<rect x="1559.30" y="1399.50" width="10.20" height="24.90" fill="#2F4D9F" stroke="#000" stroke-width="1.6"/>
<line x1="1564.4" y1="1398.7" x2="1564.4" y2="1392.9" stroke="#000" stroke-width="3.3" stroke-linecap="butt"/>
<line x1="1561.6" y1="1394.3" x2="1567.2" y2="1394.3" stroke="#000" stroke-width="3.0" stroke-linecap="butt"/>
<circle cx="1564.4" cy="1389.2" r="4.7" fill="none" stroke="#000" stroke-width="1.8"/>
<circle cx="1564.4" cy="1403.0" r="4.7" fill="none" stroke="#000" stroke-width="1.8"/>
<circle cx="1564.4" cy="1404.0" r="4.7" fill="none" stroke="#000" stroke-width="1.8"/>
<rect x="1575.30" y="1400.40" width="10.20" height="24.00" fill="#BEBAE3"/>
<svg x="1575.30" y="1400.40" width="10.20" height="24.00" viewBox="1575.30 1400.40 10.20 24.00" overflow="hidden">
<polygon points="1573.30,1363.00 1587.50,1348.80 1587.50,1357.80 1573.30,1372.00" fill="#4B4B22"/>
<polygon points="1573.30,1389.00 1587.50,1374.80 1587.50,1383.80 1573.30,1398.00" fill="#4B4B22"/>
<polygon points="1573.30,1415.00 1587.50,1400.80 1587.50,1409.80 1573.30,1424.00" fill="#4B4B22"/>
<polygon points="1573.30,1441.00 1587.50,1426.80 1587.50,1435.80 1573.30,1450.00" fill="#4B4B22"/>
<polygon points="1573.30,1467.00 1587.50,1452.80 1587.50,1461.80 1573.30,1476.00" fill="#4B4B22"/>
</svg>
<rect x="1575.30" y="1400.40" width="10.20" height="24.00" fill="none" stroke="#000" stroke-width="1.6"/>
<line x1="1580.4" y1="1399.6" x2="1580.4" y2="1398.0" stroke="#000" stroke-width="3.3" stroke-linecap="butt"/>
<line x1="1577.6" y1="1399.4" x2="1583.2" y2="1399.4" stroke="#000" stroke-width="3.0" stroke-linecap="butt"/>
<circle cx="1580.4" cy="1397.6" r="4.7" fill="none" stroke="#000" stroke-width="1.8"/>
<circle cx="1580.4" cy="1400.9" r="4.7" fill="none" stroke="#000" stroke-width="1.8"/>
<rect x="1591.30" y="1395.30" width="10.20" height="29.10" fill="#19853F" stroke="#000" stroke-width="1.6"/>
<line x1="1596.4" y1="1394.5" x2="1596.4" y2="1392.9" stroke="#000" stroke-width="3.3" stroke-linecap="butt"/>
<line x1="1593.6" y1="1394.3" x2="1599.2" y2="1394.3" stroke="#000" stroke-width="3.0" stroke-linecap="butt"/>
<circle cx="1596.4" cy="1392.0" r="4.7" fill="none" stroke="#000" stroke-width="1.8"/>
<circle cx="1596.4" cy="1395.4" r="4.7" fill="none" stroke="#000" stroke-width="1.8"/>
<rect x="1618.30" y="1417.20" width="10.20" height="7.20" fill="#2F4D9F" stroke="#000" stroke-width="1.6"/>
<line x1="1623.4" y1="1416.4" x2="1623.4" y2="1414.8" stroke="#000" stroke-width="3.3" stroke-linecap="butt"/>
<line x1="1620.6" y1="1416.2" x2="1626.2" y2="1416.2" stroke="#000" stroke-width="3.0" stroke-linecap="butt"/>
<circle cx="1623.4" cy="1413.9" r="4.7" fill="none" stroke="#000" stroke-width="1.8"/>
<circle cx="1623.4" cy="1416.4" r="4.7" fill="none" stroke="#000" stroke-width="1.8"/>
<circle cx="1623.4" cy="1418.0" r="4.7" fill="none" stroke="#000" stroke-width="1.8"/>
<rect x="1634.30" y="1416.40" width="10.20" height="8.00" fill="#BEBAE3"/>
<svg x="1634.30" y="1416.40" width="10.20" height="8.00" viewBox="1634.30 1416.40 10.20 8.00" overflow="hidden">
<polygon points="1632.30,1363.00 1646.50,1348.80 1646.50,1357.80 1632.30,1372.00" fill="#4B4B22"/>
<polygon points="1632.30,1389.00 1646.50,1374.80 1646.50,1383.80 1632.30,1398.00" fill="#4B4B22"/>
<polygon points="1632.30,1415.00 1646.50,1400.80 1646.50,1409.80 1632.30,1424.00" fill="#4B4B22"/>
<polygon points="1632.30,1441.00 1646.50,1426.80 1646.50,1435.80 1632.30,1450.00" fill="#4B4B22"/>
<polygon points="1632.30,1467.00 1646.50,1452.80 1646.50,1461.80 1632.30,1476.00" fill="#4B4B22"/>
</svg>
<rect x="1634.30" y="1416.40" width="10.20" height="8.00" fill="none" stroke="#000" stroke-width="1.6"/>
<line x1="1639.4" y1="1415.6" x2="1639.4" y2="1414.0" stroke="#000" stroke-width="3.3" stroke-linecap="butt"/>
<line x1="1636.6" y1="1415.4" x2="1642.2" y2="1415.4" stroke="#000" stroke-width="3.0" stroke-linecap="butt"/>
<circle cx="1639.4" cy="1412.2" r="4.7" fill="none" stroke="#000" stroke-width="1.8"/>
<circle cx="1639.4" cy="1415.6" r="4.7" fill="none" stroke="#000" stroke-width="1.8"/>
<rect x="1650.30" y="1413.00" width="10.20" height="11.40" fill="#19853F" stroke="#000" stroke-width="1.6"/>
<line x1="1655.4" y1="1412.2" x2="1655.4" y2="1410.6" stroke="#000" stroke-width="3.3" stroke-linecap="butt"/>
<line x1="1652.6" y1="1412.0" x2="1658.2" y2="1412.0" stroke="#000" stroke-width="3.0" stroke-linecap="butt"/>
<circle cx="1655.4" cy="1409.3" r="4.7" fill="none" stroke="#000" stroke-width="1.8"/>
<circle cx="1655.4" cy="1412.7" r="4.7" fill="none" stroke="#000" stroke-width="1.8"/>
<rect x="1677.30" y="1422.50" width="10.20" height="1.90" fill="#2F4D9F" stroke="#000" stroke-width="1.6"/>
<line x1="1682.4" y1="1421.7" x2="1682.4" y2="1420.1" stroke="#000" stroke-width="3.3" stroke-linecap="butt"/>
<line x1="1679.6" y1="1421.5" x2="1685.2" y2="1421.5" stroke="#000" stroke-width="3.0" stroke-linecap="butt"/>
<circle cx="1682.4" cy="1421.1" r="4.7" fill="none" stroke="#000" stroke-width="1.8"/>
<circle cx="1682.4" cy="1422.3" r="4.7" fill="none" stroke="#000" stroke-width="1.8"/>
<rect x="1693.30" y="1422.60" width="10.20" height="1.80" fill="#BEBAE3"/>
<svg x="1693.30" y="1422.60" width="10.20" height="1.80" viewBox="1693.30 1422.60 10.20 1.80" overflow="hidden">
<polygon points="1691.30,1389.00 1705.50,1374.80 1705.50,1383.80 1691.30,1398.00" fill="#4B4B22"/>
<polygon points="1691.30,1415.00 1705.50,1400.80 1705.50,1409.80 1691.30,1424.00" fill="#4B4B22"/>
<polygon points="1691.30,1441.00 1705.50,1426.80 1705.50,1435.80 1691.30,1450.00" fill="#4B4B22"/>
<polygon points="1691.30,1467.00 1705.50,1452.80 1705.50,1461.80 1691.30,1476.00" fill="#4B4B22"/>
</svg>
<rect x="1693.30" y="1422.60" width="10.20" height="1.80" fill="none" stroke="#000" stroke-width="1.6"/>
<line x1="1698.4" y1="1421.8" x2="1698.4" y2="1420.2" stroke="#000" stroke-width="3.3" stroke-linecap="butt"/>
<line x1="1695.6" y1="1421.6" x2="1701.2" y2="1421.6" stroke="#000" stroke-width="3.0" stroke-linecap="butt"/>
<circle cx="1698.4" cy="1421.8" r="4.7" fill="none" stroke="#000" stroke-width="1.8"/>
<rect x="1709.30" y="1422.30" width="10.20" height="2.10" fill="#19853F" stroke="#000" stroke-width="1.6"/>
<line x1="1714.4" y1="1421.5" x2="1714.4" y2="1419.9" stroke="#000" stroke-width="3.3" stroke-linecap="butt"/>
<line x1="1711.6" y1="1421.3" x2="1717.2" y2="1421.3" stroke="#000" stroke-width="3.0" stroke-linecap="butt"/>
<circle cx="1714.4" cy="1421.5" r="4.7" fill="none" stroke="#000" stroke-width="1.8"/>
<rect x="1736.30" y="1416.40" width="10.20" height="8.00" fill="#2F4D9F" stroke="#000" stroke-width="1.6"/>
<line x1="1741.4" y1="1415.6" x2="1741.4" y2="1414.0" stroke="#000" stroke-width="3.3" stroke-linecap="butt"/>
<line x1="1738.6" y1="1415.4" x2="1744.2" y2="1415.4" stroke="#000" stroke-width="3.0" stroke-linecap="butt"/>
<circle cx="1741.4" cy="1413.0" r="4.7" fill="none" stroke="#000" stroke-width="1.8"/>
<circle cx="1741.4" cy="1415.6" r="4.7" fill="none" stroke="#000" stroke-width="1.8"/>
<circle cx="1741.4" cy="1417.2" r="4.7" fill="none" stroke="#000" stroke-width="1.8"/>
<rect x="1752.30" y="1418.80" width="10.20" height="5.60" fill="#BEBAE3"/>
<svg x="1752.30" y="1418.80" width="10.20" height="5.60" viewBox="1752.30 1418.80 10.20 5.60" overflow="hidden">
<polygon points="1750.30,1363.00 1764.50,1348.80 1764.50,1357.80 1750.30,1372.00" fill="#4B4B22"/>
<polygon points="1750.30,1389.00 1764.50,1374.80 1764.50,1383.80 1750.30,1398.00" fill="#4B4B22"/>
<polygon points="1750.30,1415.00 1764.50,1400.80 1764.50,1409.80 1750.30,1424.00" fill="#4B4B22"/>
<polygon points="1750.30,1441.00 1764.50,1426.80 1764.50,1435.80 1750.30,1450.00" fill="#4B4B22"/>
<polygon points="1750.30,1467.00 1764.50,1452.80 1764.50,1461.80 1750.30,1476.00" fill="#4B4B22"/>
</svg>
<rect x="1752.30" y="1418.80" width="10.20" height="5.60" fill="none" stroke="#000" stroke-width="1.6"/>
<line x1="1757.4" y1="1418.0" x2="1757.4" y2="1416.4" stroke="#000" stroke-width="3.3" stroke-linecap="butt"/>
<line x1="1754.6" y1="1417.8" x2="1760.2" y2="1417.8" stroke="#000" stroke-width="3.0" stroke-linecap="butt"/>
<circle cx="1757.4" cy="1416.0" r="4.7" fill="none" stroke="#000" stroke-width="1.8"/>
<circle cx="1757.4" cy="1418.0" r="4.7" fill="none" stroke="#000" stroke-width="1.8"/>
<rect x="1768.30" y="1406.30" width="10.20" height="18.10" fill="#19853F" stroke="#000" stroke-width="1.6"/>
<line x1="1773.4" y1="1405.5" x2="1773.4" y2="1403.9" stroke="#000" stroke-width="3.3" stroke-linecap="butt"/>
<line x1="1770.6" y1="1405.3" x2="1776.2" y2="1405.3" stroke="#000" stroke-width="3.0" stroke-linecap="butt"/>
<circle cx="1773.4" cy="1397.1" r="4.7" fill="none" stroke="#000" stroke-width="1.8"/>
<circle cx="1773.4" cy="1413.0" r="4.7" fill="none" stroke="#000" stroke-width="1.8"/>
<rect x="1795.30" y="1407.10" width="10.20" height="17.30" fill="#2F4D9F" stroke="#000" stroke-width="1.6"/>
<line x1="1800.4" y1="1406.3" x2="1800.4" y2="1404.7" stroke="#000" stroke-width="3.3" stroke-linecap="butt"/>
<line x1="1797.6" y1="1406.1" x2="1803.2" y2="1406.1" stroke="#000" stroke-width="3.0" stroke-linecap="butt"/>
<circle cx="1800.4" cy="1401.3" r="4.7" fill="none" stroke="#000" stroke-width="1.8"/>
<circle cx="1800.4" cy="1403.8" r="4.7" fill="none" stroke="#000" stroke-width="1.8"/>
<circle cx="1800.4" cy="1406.3" r="4.7" fill="none" stroke="#000" stroke-width="1.8"/>
<rect x="1811.30" y="1417.20" width="10.20" height="7.20" fill="#BEBAE3"/>
<svg x="1811.30" y="1417.20" width="10.20" height="7.20" viewBox="1811.30 1417.20 10.20 7.20" overflow="hidden">
<polygon points="1809.30,1363.00 1823.50,1348.80 1823.50,1357.80 1809.30,1372.00" fill="#4B4B22"/>
<polygon points="1809.30,1389.00 1823.50,1374.80 1823.50,1383.80 1809.30,1398.00" fill="#4B4B22"/>
<polygon points="1809.30,1415.00 1823.50,1400.80 1823.50,1409.80 1809.30,1424.00" fill="#4B4B22"/>
<polygon points="1809.30,1441.00 1823.50,1426.80 1823.50,1435.80 1809.30,1450.00" fill="#4B4B22"/>
<polygon points="1809.30,1467.00 1823.50,1452.80 1823.50,1461.80 1809.30,1476.00" fill="#4B4B22"/>
</svg>
<rect x="1811.30" y="1417.20" width="10.20" height="7.20" fill="none" stroke="#000" stroke-width="1.6"/>
<line x1="1816.4" y1="1416.4" x2="1816.4" y2="1414.8" stroke="#000" stroke-width="3.3" stroke-linecap="butt"/>
<line x1="1813.6" y1="1416.2" x2="1819.2" y2="1416.2" stroke="#000" stroke-width="3.0" stroke-linecap="butt"/>
<circle cx="1816.4" cy="1413.9" r="4.7" fill="none" stroke="#000" stroke-width="1.8"/>
<circle cx="1816.4" cy="1416.4" r="4.7" fill="none" stroke="#000" stroke-width="1.8"/>
<rect x="1827.30" y="1407.10" width="10.20" height="17.30" fill="#19853F" stroke="#000" stroke-width="1.6"/>
<line x1="1832.4" y1="1406.3" x2="1832.4" y2="1404.7" stroke="#000" stroke-width="3.3" stroke-linecap="butt"/>
<line x1="1829.6" y1="1406.1" x2="1835.2" y2="1406.1" stroke="#000" stroke-width="3.0" stroke-linecap="butt"/>
<circle cx="1832.4" cy="1403.8" r="4.7" fill="none" stroke="#000" stroke-width="1.8"/>
<circle cx="1832.4" cy="1406.3" r="4.7" fill="none" stroke="#000" stroke-width="1.8"/>
<rect x="1854.30" y="1411.30" width="10.20" height="13.10" fill="#2F4D9F" stroke="#000" stroke-width="1.6"/>
<line x1="1859.4" y1="1410.5" x2="1859.4" y2="1407.2" stroke="#000" stroke-width="3.3" stroke-linecap="butt"/>
<line x1="1856.6" y1="1408.6" x2="1862.2" y2="1408.6" stroke="#000" stroke-width="3.0" stroke-linecap="butt"/>
<circle cx="1859.4" cy="1404.3" r="4.7" fill="none" stroke="#000" stroke-width="1.8"/>
<circle cx="1859.4" cy="1410.5" r="4.7" fill="none" stroke="#000" stroke-width="1.8"/>
<circle cx="1859.4" cy="1414.0" r="4.7" fill="none" stroke="#000" stroke-width="1.8"/>
<rect x="1870.30" y="1413.80" width="10.20" height="10.60" fill="#BEBAE3"/>
<svg x="1870.30" y="1413.80" width="10.20" height="10.60" viewBox="1870.30 1413.80 10.20 10.60" overflow="hidden">
<polygon points="1868.30,1363.00 1882.50,1348.80 1882.50,1357.80 1868.30,1372.00" fill="#4B4B22"/>
<polygon points="1868.30,1389.00 1882.50,1374.80 1882.50,1383.80 1868.30,1398.00" fill="#4B4B22"/>
<polygon points="1868.30,1415.00 1882.50,1400.80 1882.50,1409.80 1868.30,1424.00" fill="#4B4B22"/>
<polygon points="1868.30,1441.00 1882.50,1426.80 1882.50,1435.80 1868.30,1450.00" fill="#4B4B22"/>
<polygon points="1868.30,1467.00 1882.50,1452.80 1882.50,1461.80 1868.30,1476.00" fill="#4B4B22"/>
</svg>
<rect x="1870.30" y="1413.80" width="10.20" height="10.60" fill="none" stroke="#000" stroke-width="1.6"/>
<line x1="1875.4" y1="1413.0" x2="1875.4" y2="1411.4" stroke="#000" stroke-width="3.3" stroke-linecap="butt"/>
<line x1="1872.6" y1="1412.8" x2="1878.2" y2="1412.8" stroke="#000" stroke-width="3.0" stroke-linecap="butt"/>
<circle cx="1875.4" cy="1409.7" r="4.7" fill="none" stroke="#000" stroke-width="1.8"/>
<circle cx="1875.4" cy="1411.4" r="4.7" fill="none" stroke="#000" stroke-width="1.8"/>
<circle cx="1875.4" cy="1414.0" r="4.7" fill="none" stroke="#000" stroke-width="1.8"/>
<rect x="1913.30" y="1423.10" width="10.20" height="1.30" fill="#2F4D9F" stroke="#000" stroke-width="1.6"/>
<line x1="1918.4" y1="1422.3" x2="1918.4" y2="1420.7" stroke="#000" stroke-width="3.3" stroke-linecap="butt"/>
<line x1="1915.6" y1="1422.1" x2="1921.2" y2="1422.1" stroke="#000" stroke-width="3.0" stroke-linecap="butt"/>
<circle cx="1918.4" cy="1422.3" r="4.7" fill="none" stroke="#000" stroke-width="1.8"/>
<rect x="1929.30" y="1422.60" width="10.20" height="1.80" fill="#BEBAE3"/>
<svg x="1929.30" y="1422.60" width="10.20" height="1.80" viewBox="1929.30 1422.60 10.20 1.80" overflow="hidden">
<polygon points="1927.30,1389.00 1941.50,1374.80 1941.50,1383.80 1927.30,1398.00" fill="#4B4B22"/>
<polygon points="1927.30,1415.00 1941.50,1400.80 1941.50,1409.80 1927.30,1424.00" fill="#4B4B22"/>
<polygon points="1927.30,1441.00 1941.50,1426.80 1941.50,1435.80 1927.30,1450.00" fill="#4B4B22"/>
<polygon points="1927.30,1467.00 1941.50,1452.80 1941.50,1461.80 1927.30,1476.00" fill="#4B4B22"/>
</svg>
<rect x="1929.30" y="1422.60" width="10.20" height="1.80" fill="none" stroke="#000" stroke-width="1.6"/>
<line x1="1934.4" y1="1421.8" x2="1934.4" y2="1420.2" stroke="#000" stroke-width="3.3" stroke-linecap="butt"/>
<line x1="1931.6" y1="1421.6" x2="1937.2" y2="1421.6" stroke="#000" stroke-width="3.0" stroke-linecap="butt"/>
<circle cx="1934.4" cy="1421.8" r="4.7" fill="none" stroke="#000" stroke-width="1.8"/>
<rect x="1972.30" y="1420.80" width="10.20" height="3.60" fill="#2F4D9F" stroke="#000" stroke-width="1.6"/>
<line x1="1977.4" y1="1420.0" x2="1977.4" y2="1418.4" stroke="#000" stroke-width="3.3" stroke-linecap="butt"/>
<line x1="1974.6" y1="1419.8" x2="1980.2" y2="1419.8" stroke="#000" stroke-width="3.0" stroke-linecap="butt"/>
<circle cx="1977.4" cy="1416.9" r="4.7" fill="none" stroke="#000" stroke-width="1.8"/>
<circle cx="1977.4" cy="1420.6" r="4.7" fill="none" stroke="#000" stroke-width="1.8"/>
<circle cx="1977.4" cy="1422.3" r="4.7" fill="none" stroke="#000" stroke-width="1.8"/>
<rect x="1988.30" y="1421.90" width="10.20" height="2.50" fill="#BEBAE3"/>
<svg x="1988.30" y="1421.90" width="10.20" height="2.50" viewBox="1988.30 1421.90 10.20 2.50" overflow="hidden">
<polygon points="1986.30,1363.00 2000.50,1348.80 2000.50,1357.80 1986.30,1372.00" fill="#4B4B22"/>
<polygon points="1986.30,1389.00 2000.50,1374.80 2000.50,1383.80 1986.30,1398.00" fill="#4B4B22"/>
<polygon points="1986.30,1415.00 2000.50,1400.80 2000.50,1409.80 1986.30,1424.00" fill="#4B4B22"/>
<polygon points="1986.30,1441.00 2000.50,1426.80 2000.50,1435.80 1986.30,1450.00" fill="#4B4B22"/>
<polygon points="1986.30,1467.00 2000.50,1452.80 2000.50,1461.80 1986.30,1476.00" fill="#4B4B22"/>
</svg>
<rect x="1988.30" y="1421.90" width="10.20" height="2.50" fill="none" stroke="#000" stroke-width="1.6"/>
<line x1="1993.4" y1="1421.1" x2="1993.4" y2="1419.5" stroke="#000" stroke-width="3.3" stroke-linecap="butt"/>
<line x1="1990.6" y1="1420.9" x2="1996.2" y2="1420.9" stroke="#000" stroke-width="3.0" stroke-linecap="butt"/>
<circle cx="1993.4" cy="1421.1" r="4.7" fill="none" stroke="#000" stroke-width="1.8"/>
<rect x="2031.30" y="1418.90" width="10.20" height="5.50" fill="#2F4D9F" stroke="#000" stroke-width="1.6"/>
<line x1="2036.4" y1="1418.1" x2="2036.4" y2="1416.5" stroke="#000" stroke-width="3.3" stroke-linecap="butt"/>
<line x1="2033.6" y1="1417.9" x2="2039.2" y2="1417.9" stroke="#000" stroke-width="3.0" stroke-linecap="butt"/>
<circle cx="2036.4" cy="1414.7" r="4.7" fill="none" stroke="#000" stroke-width="1.8"/>
<circle cx="2036.4" cy="1418.1" r="4.7" fill="none" stroke="#000" stroke-width="1.8"/>
<rect x="2047.30" y="1422.30" width="10.20" height="2.10" fill="#BEBAE3"/>
<svg x="2047.30" y="1422.30" width="10.20" height="2.10" viewBox="2047.30 1422.30 10.20 2.10" overflow="hidden">
<polygon points="2045.30,1389.00 2059.50,1374.80 2059.50,1383.80 2045.30,1398.00" fill="#4B4B22"/>
<polygon points="2045.30,1415.00 2059.50,1400.80 2059.50,1409.80 2045.30,1424.00" fill="#4B4B22"/>
<polygon points="2045.30,1441.00 2059.50,1426.80 2059.50,1435.80 2045.30,1450.00" fill="#4B4B22"/>
<polygon points="2045.30,1467.00 2059.50,1452.80 2059.50,1461.80 2045.30,1476.00" fill="#4B4B22"/>
</svg>
<rect x="2047.30" y="1422.30" width="10.20" height="2.10" fill="none" stroke="#000" stroke-width="1.6"/>
<line x1="2052.4" y1="1421.5" x2="2052.4" y2="1419.9" stroke="#000" stroke-width="3.3" stroke-linecap="butt"/>
<line x1="2049.6" y1="1421.3" x2="2055.2" y2="1421.3" stroke="#000" stroke-width="3.0" stroke-linecap="butt"/>
<circle cx="2052.4" cy="1421.5" r="4.7" fill="none" stroke="#000" stroke-width="1.8"/>
<rect x="2063.30" y="1419.70" width="10.20" height="4.70" fill="#19853F" stroke="#000" stroke-width="1.6"/>
<line x1="2068.4" y1="1418.9" x2="2068.4" y2="1417.3" stroke="#000" stroke-width="3.3" stroke-linecap="butt"/>
<line x1="2065.6" y1="1418.7" x2="2071.2" y2="1418.7" stroke="#000" stroke-width="3.0" stroke-linecap="butt"/>
<circle cx="2068.4" cy="1414.7" r="4.7" fill="none" stroke="#000" stroke-width="1.8"/>
<circle cx="2068.4" cy="1418.9" r="4.7" fill="none" stroke="#000" stroke-width="1.8"/>
<line x1="1199.7" y1="913.0" x2="1199.7" y2="1426.1" stroke="#000" stroke-width="3.4" stroke-linecap="butt"/>
<line x1="1179.5" y1="1315.1" x2="1199.7" y2="1315.1" stroke="#000" stroke-width="3.4" stroke-linecap="butt"/>
<line x1="1179.5" y1="1205.8" x2="1199.7" y2="1205.8" stroke="#000" stroke-width="3.4" stroke-linecap="butt"/>
<line x1="1179.5" y1="1096.5" x2="1199.7" y2="1096.5" stroke="#000" stroke-width="3.4" stroke-linecap="butt"/>
<line x1="1179.5" y1="987.2" x2="1199.7" y2="987.2" stroke="#000" stroke-width="3.4" stroke-linecap="butt"/>
<line x1="1179.5" y1="1424.4" x2="2081.0" y2="1424.4" stroke="#000" stroke-width="3.4" stroke-linecap="butt"/>
<line x1="1226.0" y1="1424.4" x2="1226.0" y2="1444.7" stroke="#000" stroke-width="3.4" stroke-linecap="butt"/>
<line x1="1285.0" y1="1424.4" x2="1285.0" y2="1444.7" stroke="#000" stroke-width="3.4" stroke-linecap="butt"/>
<line x1="1344.0" y1="1424.4" x2="1344.0" y2="1444.7" stroke="#000" stroke-width="3.4" stroke-linecap="butt"/>
<line x1="1403.0" y1="1424.4" x2="1403.0" y2="1444.7" stroke="#000" stroke-width="3.4" stroke-linecap="butt"/>
<line x1="1462.0" y1="1424.4" x2="1462.0" y2="1444.7" stroke="#000" stroke-width="3.4" stroke-linecap="butt"/>
<line x1="1521.0" y1="1424.4" x2="1521.0" y2="1444.7" stroke="#000" stroke-width="3.4" stroke-linecap="butt"/>
<line x1="1580.0" y1="1424.4" x2="1580.0" y2="1444.7" stroke="#000" stroke-width="3.4" stroke-linecap="butt"/>
<line x1="1639.0" y1="1424.4" x2="1639.0" y2="1444.7" stroke="#000" stroke-width="3.4" stroke-linecap="butt"/>
<line x1="1698.0" y1="1424.4" x2="1698.0" y2="1444.7" stroke="#000" stroke-width="3.4" stroke-linecap="butt"/>
<line x1="1757.0" y1="1424.4" x2="1757.0" y2="1444.7" stroke="#000" stroke-width="3.4" stroke-linecap="butt"/>
<line x1="1816.0" y1="1424.4" x2="1816.0" y2="1444.7" stroke="#000" stroke-width="3.4" stroke-linecap="butt"/>
<line x1="1875.0" y1="1424.4" x2="1875.0" y2="1444.7" stroke="#000" stroke-width="3.4" stroke-linecap="butt"/>
<line x1="1934.0" y1="1424.4" x2="1934.0" y2="1444.7" stroke="#000" stroke-width="3.4" stroke-linecap="butt"/>
<line x1="1993.0" y1="1424.4" x2="1993.0" y2="1444.7" stroke="#000" stroke-width="3.4" stroke-linecap="butt"/>
<line x1="2052.0" y1="1424.4" x2="2052.0" y2="1444.7" stroke="#000" stroke-width="3.4" stroke-linecap="butt"/>
<text transform="translate(1173.3,1438.8) scale(1,1.04)" font-size="38" font-weight="bold" text-anchor="end" >0</text>
<text transform="translate(1173.3,1329.5) scale(1,1.04)" font-size="38" font-weight="bold" text-anchor="end" >15</text>
<text transform="translate(1173.3,1220.2) scale(1,1.04)" font-size="38" font-weight="bold" text-anchor="end" >30</text>
<text transform="translate(1173.3,1110.9) scale(1,1.04)" font-size="38" font-weight="bold" text-anchor="end" >45</text>
<text transform="translate(1173.3,1001.6) scale(1,1.04)" font-size="38" font-weight="bold" text-anchor="end" >60</text>
<text transform="translate(1238.7,1480.7) rotate(-45) scale(1,1.04)" font-size="38.7" font-weight="bold" text-anchor="end">tumor</text>
<text transform="translate(1297.7,1480.7) rotate(-45) scale(1,1.04)" font-size="38.7" font-weight="bold" text-anchor="end">heart</text>
<text transform="translate(1356.7,1480.7) rotate(-45) scale(1,1.04)" font-size="38.7" font-weight="bold" text-anchor="end">lung</text>
<text transform="translate(1415.7,1480.7) rotate(-45) scale(1,1.04)" font-size="38.7" font-weight="bold" text-anchor="end">liver</text>
<text transform="translate(1474.7,1480.7) rotate(-45) scale(1,1.04)" font-size="38.7" font-weight="bold" text-anchor="end">spleen</text>
<text transform="translate(1533.7,1480.7) rotate(-45) scale(1,1.04)" font-size="38.7" font-weight="bold" text-anchor="end">intestine</text>
<text transform="translate(1592.7,1480.7) rotate(-45) scale(1,1.04)" font-size="38.7" font-weight="bold" text-anchor="end">kidney</text>
<text transform="translate(1651.7,1480.7) rotate(-45) scale(1,1.04)" font-size="38.7" font-weight="bold" text-anchor="end">blood</text>
<text transform="translate(1710.7,1480.7) rotate(-45) scale(1,1.04)" font-size="38.7" font-weight="bold" text-anchor="end">muscle</text>
<text transform="translate(1769.7,1480.7) rotate(-45) scale(1,1.04)" font-size="38.7" font-weight="bold" text-anchor="end">tail</text>
<text transform="translate(1828.7,1480.7) rotate(-45) scale(1,1.04)" font-size="38.7" font-weight="bold" text-anchor="end">salivary gland</text>
<text transform="translate(1887.7,1480.7) rotate(-45) scale(1,1.04)" font-size="38.7" font-weight="bold" text-anchor="end">prostate</text>
<text transform="translate(1946.7,1480.7) rotate(-45) scale(1,1.04)" font-size="38.7" font-weight="bold" text-anchor="end">seminal vesicles</text>
<text transform="translate(2005.7,1480.7) rotate(-45) scale(1,1.04)" font-size="38.7" font-weight="bold" text-anchor="end">testicles</text>
<text transform="translate(2064.7,1480.7) rotate(-45) scale(1,1.04)" font-size="38.7" font-weight="bold" text-anchor="end">bone</text>
<rect x="1349.20" y="981.60" width="53.60" height="29.30" fill="#2F4D9F" stroke="#000" stroke-width="1.7"/>
<rect x="1349.10" y="1045.00" width="53.90" height="25.90" fill="#BEBAE3"/>
<svg x="1349.10" y="1045.00" width="53.90" height="25.90" viewBox="1349.10 1045.00 53.90 25.90" overflow="hidden">
<polygon points="1347.0,1065.9 1367.0,1045.9 1367.0,1043.0 1375.4,1043.0 1377.8,1048.5 1354.3,1072.0 1347.0,1072.0" fill="#4B4B22"/>
<polygon points="1370.4,1068.4 1392.7,1046.1 1392.7,1043.0 1406.0,1043.0 1406.0,1046.0 1380.0,1072.0 1373.5,1072.0" fill="#4B4B22"/>
<polygon points="1396.3,1068.4 1399.9,1064.8 1406.0,1070.9 1406.0,1073.0 1400.5,1073.0" fill="#4B4B22"/>
</svg>
<rect x="1349.10" y="1045.00" width="53.90" height="25.90" fill="none" stroke="#000" stroke-width="1.7"/>
<rect x="1349.20" y="1110.00" width="53.60" height="22.20" fill="#19853F" stroke="#000" stroke-width="1.7"/>
<text x="1433.4" y="1012.2" font-size="42.72" font-weight="normal" xml:space="preserve"><tspan>HT1080.hACP3</tspan></text>
<text x="1433.4" y="1072.7" font-size="42.72" font-weight="normal" xml:space="preserve"><tspan>HT1080.hACP3  (Pre-blocking)</tspan></text>
<text x="1433.4" y="1136.7" font-size="42.72" font-weight="normal" xml:space="preserve"><tspan>SK-RC-52 (ACP3 negative)</tspan></text>
</svg>
</body>
</html>
